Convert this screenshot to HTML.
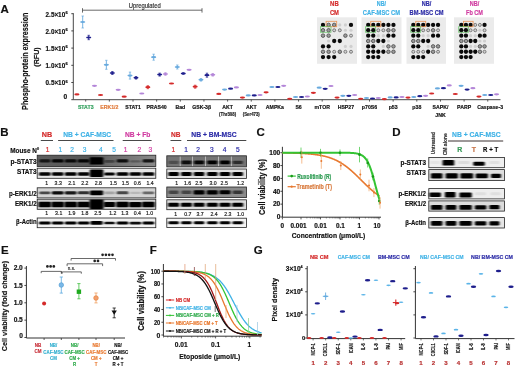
<!DOCTYPE html>
<html><head><meta charset="utf-8"><style>
html,body{margin:0;padding:0;background:#fff;}
svg{display:block;font-family:"Liberation Sans",sans-serif;will-change:transform;}
</style></head><body>
<svg width="520" height="368" viewBox="0 0 520 368">
<defs><filter id="bl" x="-30%" y="-80%" width="160%" height="260%"><feGaussianBlur stdDeviation="0.9 0.5"/></filter><linearGradient id="gPS" x1="0" y1="0" x2="1" y2="0"><stop offset="0" stop-color="#5e5e5e"/><stop offset="0.45" stop-color="#555"/><stop offset="0.6" stop-color="#6a6a6a"/><stop offset="1" stop-color="#8a8a8a"/></linearGradient></defs>
<rect width="520" height="368" fill="#fff"/>
<text x="0.50" y="13.00" font-size="11.5" fill="#111" font-weight="bold" text-anchor="start" stroke="#111" stroke-width="0.18" >A</text>
<text x="28.20" y="61.20" font-size="8.2" fill="#111" font-weight="bold" text-anchor="middle" stroke="#111" stroke-width="0.18" textLength="97.4" lengthAdjust="spacingAndGlyphs" transform="rotate(-90 28.20 61.20)" >Phospho-protein expression</text>
<text x="39.40" y="57.00" font-size="8.0" fill="#111" font-weight="bold" text-anchor="middle" stroke="#111" stroke-width="0.18" textLength="19.5" lengthAdjust="spacingAndGlyphs" transform="rotate(-90 39.40 57.00)" >(RFU)</text>
<line x1="73.30" y1="13.20" x2="73.30" y2="99.70" stroke="#333" stroke-width="0.9" />
<line x1="71.30" y1="13.70" x2="73.30" y2="13.70" stroke="#333" stroke-width="0.9" />
<text x="45.60" y="16.50" font-size="6.9" fill="#111" font-weight="bold" text-anchor="start" stroke="#111" stroke-width="0.18" textLength="19.6" lengthAdjust="spacingAndGlyphs" >2.5×10</text>
<text x="65.40" y="13.80" font-size="4.0" fill="#111" font-weight="bold" text-anchor="start" stroke="#111" stroke-width="0.18" >6</text>
<line x1="71.30" y1="30.90" x2="73.30" y2="30.90" stroke="#333" stroke-width="0.9" />
<text x="45.60" y="33.70" font-size="6.9" fill="#111" font-weight="bold" text-anchor="start" stroke="#111" stroke-width="0.18" textLength="19.6" lengthAdjust="spacingAndGlyphs" >2.0×10</text>
<text x="65.40" y="31.00" font-size="4.0" fill="#111" font-weight="bold" text-anchor="start" stroke="#111" stroke-width="0.18" >6</text>
<line x1="71.30" y1="48.10" x2="73.30" y2="48.10" stroke="#333" stroke-width="0.9" />
<text x="45.60" y="50.90" font-size="6.9" fill="#111" font-weight="bold" text-anchor="start" stroke="#111" stroke-width="0.18" textLength="19.6" lengthAdjust="spacingAndGlyphs" >1.5×10</text>
<text x="65.40" y="48.20" font-size="4.0" fill="#111" font-weight="bold" text-anchor="start" stroke="#111" stroke-width="0.18" >6</text>
<line x1="71.30" y1="65.30" x2="73.30" y2="65.30" stroke="#333" stroke-width="0.9" />
<text x="45.60" y="68.10" font-size="6.9" fill="#111" font-weight="bold" text-anchor="start" stroke="#111" stroke-width="0.18" textLength="19.6" lengthAdjust="spacingAndGlyphs" >1.0×10</text>
<text x="65.40" y="65.40" font-size="4.0" fill="#111" font-weight="bold" text-anchor="start" stroke="#111" stroke-width="0.18" >6</text>
<line x1="71.30" y1="82.50" x2="73.30" y2="82.50" stroke="#333" stroke-width="0.9" />
<text x="45.60" y="85.30" font-size="6.9" fill="#111" font-weight="bold" text-anchor="start" stroke="#111" stroke-width="0.18" textLength="19.6" lengthAdjust="spacingAndGlyphs" >0.5×10</text>
<text x="65.40" y="82.60" font-size="4.0" fill="#111" font-weight="bold" text-anchor="start" stroke="#111" stroke-width="0.18" >6</text>
<line x1="71.30" y1="99.70" x2="73.30" y2="99.70" stroke="#333" stroke-width="0.9" />
<text x="67.20" y="98.60" font-size="6.6" fill="#111" font-weight="bold" text-anchor="end" stroke="#111" stroke-width="0.18" >0</text>
<line x1="73.30" y1="99.70" x2="500.50" y2="99.70" stroke="#333" stroke-width="0.9" />
<line x1="85.70" y1="99.70" x2="85.70" y2="101.60" stroke="#333" stroke-width="0.8" />
<text x="0" y="0" font-size="5.9" fill="#2e9e5a" font-weight="bold" text-anchor="middle" stroke="#2e9e5a" stroke-width="0.18" transform="translate(85.70 108.60) scale(0.88 1)">STAT3</text>
<line x1="109.35" y1="99.70" x2="109.35" y2="101.60" stroke="#333" stroke-width="0.8" />
<text x="0" y="0" font-size="5.9" fill="#e07a3a" font-weight="bold" text-anchor="middle" stroke="#e07a3a" stroke-width="0.18" transform="translate(109.35 108.60) scale(0.88 1)">ERK1/2</text>
<line x1="133.00" y1="99.70" x2="133.00" y2="101.60" stroke="#333" stroke-width="0.8" />
<text x="0" y="0" font-size="5.9" fill="#111" font-weight="bold" text-anchor="middle" stroke="#111" stroke-width="0.18" transform="translate(133.00 108.60) scale(0.88 1)">STAT1</text>
<line x1="156.65" y1="99.70" x2="156.65" y2="101.60" stroke="#333" stroke-width="0.8" />
<text x="0" y="0" font-size="5.9" fill="#111" font-weight="bold" text-anchor="middle" stroke="#111" stroke-width="0.18" transform="translate(156.65 108.60) scale(0.88 1)">PRAS40</text>
<line x1="180.30" y1="99.70" x2="180.30" y2="101.60" stroke="#333" stroke-width="0.8" />
<text x="0" y="0" font-size="5.9" fill="#111" font-weight="bold" text-anchor="middle" stroke="#111" stroke-width="0.18" transform="translate(180.30 108.60) scale(0.88 1)">Bad</text>
<line x1="203.95" y1="99.70" x2="203.95" y2="101.60" stroke="#333" stroke-width="0.8" />
<text x="0" y="0" font-size="5.9" fill="#111" font-weight="bold" text-anchor="middle" stroke="#111" stroke-width="0.18" transform="translate(201.65 108.60) scale(0.88 1)">GSK-3β</text>
<line x1="227.60" y1="99.70" x2="227.60" y2="101.60" stroke="#333" stroke-width="0.8" />
<text x="0" y="0" font-size="5.9" fill="#111" font-weight="bold" text-anchor="middle" stroke="#111" stroke-width="0.18" transform="translate(227.60 108.60) scale(0.88 1)">AKT</text>
<text x="0" y="0" font-size="4.8" fill="#222" font-weight="bold" text-anchor="middle" stroke="#222" stroke-width="0.18" transform="translate(227.60 115.80) scale(0.9 1)">(Thr308)</text>
<line x1="251.25" y1="99.70" x2="251.25" y2="101.60" stroke="#333" stroke-width="0.8" />
<text x="0" y="0" font-size="5.9" fill="#111" font-weight="bold" text-anchor="middle" stroke="#111" stroke-width="0.18" transform="translate(251.25 108.60) scale(0.88 1)">AKT</text>
<text x="0" y="0" font-size="4.8" fill="#222" font-weight="bold" text-anchor="middle" stroke="#222" stroke-width="0.18" transform="translate(251.25 115.80) scale(0.9 1)">(Ser473)</text>
<line x1="274.90" y1="99.70" x2="274.90" y2="101.60" stroke="#333" stroke-width="0.8" />
<text x="0" y="0" font-size="5.9" fill="#111" font-weight="bold" text-anchor="middle" stroke="#111" stroke-width="0.18" transform="translate(274.90 108.60) scale(0.88 1)">AMPKa</text>
<line x1="298.55" y1="99.70" x2="298.55" y2="101.60" stroke="#333" stroke-width="0.8" />
<text x="0" y="0" font-size="5.9" fill="#111" font-weight="bold" text-anchor="middle" stroke="#111" stroke-width="0.18" transform="translate(298.55 108.60) scale(0.88 1)">S6</text>
<line x1="322.20" y1="99.70" x2="322.20" y2="101.60" stroke="#333" stroke-width="0.8" />
<text x="0" y="0" font-size="5.9" fill="#111" font-weight="bold" text-anchor="middle" stroke="#111" stroke-width="0.18" transform="translate(322.20 108.60) scale(0.88 1)">mTOR</text>
<line x1="345.85" y1="99.70" x2="345.85" y2="101.60" stroke="#333" stroke-width="0.8" />
<text x="0" y="0" font-size="5.9" fill="#111" font-weight="bold" text-anchor="middle" stroke="#111" stroke-width="0.18" transform="translate(345.85 108.60) scale(0.88 1)">HSP27</text>
<line x1="369.50" y1="99.70" x2="369.50" y2="101.60" stroke="#333" stroke-width="0.8" />
<text x="0" y="0" font-size="5.9" fill="#111" font-weight="bold" text-anchor="middle" stroke="#111" stroke-width="0.18" transform="translate(369.50 108.60) scale(0.88 1)">p70S6</text>
<line x1="393.15" y1="99.70" x2="393.15" y2="101.60" stroke="#333" stroke-width="0.8" />
<text x="0" y="0" font-size="5.9" fill="#111" font-weight="bold" text-anchor="middle" stroke="#111" stroke-width="0.18" transform="translate(393.15 108.60) scale(0.88 1)">p53</text>
<line x1="416.80" y1="99.70" x2="416.80" y2="101.60" stroke="#333" stroke-width="0.8" />
<text x="0" y="0" font-size="5.9" fill="#111" font-weight="bold" text-anchor="middle" stroke="#111" stroke-width="0.18" transform="translate(416.80 108.60) scale(0.88 1)">p38</text>
<line x1="440.45" y1="99.70" x2="440.45" y2="101.60" stroke="#333" stroke-width="0.8" />
<text x="0" y="0" font-size="5.9" fill="#111" font-weight="bold" text-anchor="middle" stroke="#111" stroke-width="0.18" transform="translate(440.45 108.60) scale(0.88 1)">SAPK/</text>
<text x="0" y="0" font-size="5.9" fill="#111" font-weight="bold" text-anchor="middle" stroke="#111" stroke-width="0.18" transform="translate(440.45 116.60) scale(0.88 1)">JNK</text>
<line x1="464.10" y1="99.70" x2="464.10" y2="101.60" stroke="#333" stroke-width="0.8" />
<text x="0" y="0" font-size="5.9" fill="#111" font-weight="bold" text-anchor="middle" stroke="#111" stroke-width="0.18" transform="translate(464.10 108.60) scale(0.88 1)">PARP</text>
<line x1="487.75" y1="99.70" x2="487.75" y2="101.60" stroke="#333" stroke-width="0.8" />
<text x="0" y="0" font-size="5.9" fill="#111" font-weight="bold" text-anchor="middle" stroke="#111" stroke-width="0.18" transform="translate(490.15 108.60) scale(0.88 1)">Caspase-3</text>
<ellipse cx="76.90" cy="94.40" rx="2.6" ry="1.1" fill="#d42a2a"/>
<line x1="82.70" y1="16.00" x2="82.70" y2="28.00" stroke="#68aade" stroke-width="0.9" />
<line x1="81.50" y1="16.00" x2="83.90" y2="16.00" stroke="#68aade" stroke-width="0.7" />
<line x1="81.50" y1="28.00" x2="83.90" y2="28.00" stroke="#68aade" stroke-width="0.7" />
<ellipse cx="82.70" cy="22.00" rx="2.6" ry="1.1" fill="#68aade"/>
<line x1="88.70" y1="35.30" x2="88.70" y2="39.70" stroke="#1e1e8c" stroke-width="0.9" />
<line x1="87.50" y1="35.30" x2="89.90" y2="35.30" stroke="#1e1e8c" stroke-width="0.7" />
<line x1="87.50" y1="39.70" x2="89.90" y2="39.70" stroke="#1e1e8c" stroke-width="0.7" />
<ellipse cx="88.70" cy="37.50" rx="2.6" ry="1.1" fill="#1e1e8c"/>
<ellipse cx="94.50" cy="85.80" rx="2.6" ry="1.1" fill="#b486d8"/>
<ellipse cx="100.55" cy="95.00" rx="2.6" ry="1.1" fill="#d42a2a"/>
<line x1="106.35" y1="60.30" x2="106.35" y2="69.30" stroke="#68aade" stroke-width="0.9" />
<line x1="105.15" y1="60.30" x2="107.55" y2="60.30" stroke="#68aade" stroke-width="0.7" />
<line x1="105.15" y1="69.30" x2="107.55" y2="69.30" stroke="#68aade" stroke-width="0.7" />
<ellipse cx="106.35" cy="64.80" rx="2.6" ry="1.1" fill="#68aade"/>
<line x1="112.35" y1="71.50" x2="112.35" y2="74.50" stroke="#1e1e8c" stroke-width="0.9" />
<line x1="111.15" y1="71.50" x2="113.55" y2="71.50" stroke="#1e1e8c" stroke-width="0.7" />
<line x1="111.15" y1="74.50" x2="113.55" y2="74.50" stroke="#1e1e8c" stroke-width="0.7" />
<ellipse cx="112.35" cy="73.00" rx="2.6" ry="1.1" fill="#1e1e8c"/>
<ellipse cx="118.15" cy="89.80" rx="2.6" ry="1.1" fill="#b486d8"/>
<ellipse cx="124.20" cy="96.70" rx="2.6" ry="1.1" fill="#d42a2a"/>
<line x1="130.00" y1="72.10" x2="130.00" y2="79.10" stroke="#68aade" stroke-width="0.9" />
<line x1="128.80" y1="72.10" x2="131.20" y2="72.10" stroke="#68aade" stroke-width="0.7" />
<line x1="128.80" y1="79.10" x2="131.20" y2="79.10" stroke="#68aade" stroke-width="0.7" />
<ellipse cx="130.00" cy="75.60" rx="2.6" ry="1.1" fill="#68aade"/>
<line x1="136.00" y1="76.50" x2="136.00" y2="79.10" stroke="#1e1e8c" stroke-width="0.9" />
<line x1="134.80" y1="76.50" x2="137.20" y2="76.50" stroke="#1e1e8c" stroke-width="0.7" />
<line x1="134.80" y1="79.10" x2="137.20" y2="79.10" stroke="#1e1e8c" stroke-width="0.7" />
<ellipse cx="136.00" cy="77.80" rx="2.6" ry="1.1" fill="#1e1e8c"/>
<ellipse cx="141.80" cy="93.50" rx="2.6" ry="1.1" fill="#b486d8"/>
<line x1="147.85" y1="85.70" x2="147.85" y2="88.70" stroke="#d42a2a" stroke-width="0.9" />
<line x1="146.65" y1="85.70" x2="149.05" y2="85.70" stroke="#d42a2a" stroke-width="0.7" />
<line x1="146.65" y1="88.70" x2="149.05" y2="88.70" stroke="#d42a2a" stroke-width="0.7" />
<ellipse cx="147.85" cy="87.20" rx="2.6" ry="1.1" fill="#d42a2a"/>
<line x1="153.65" y1="54.20" x2="153.65" y2="60.20" stroke="#68aade" stroke-width="0.9" />
<line x1="152.45" y1="54.20" x2="154.85" y2="54.20" stroke="#68aade" stroke-width="0.7" />
<line x1="152.45" y1="60.20" x2="154.85" y2="60.20" stroke="#68aade" stroke-width="0.7" />
<ellipse cx="153.65" cy="57.20" rx="2.6" ry="1.1" fill="#68aade"/>
<line x1="159.65" y1="73.10" x2="159.65" y2="76.10" stroke="#1e1e8c" stroke-width="0.9" />
<line x1="158.45" y1="73.10" x2="160.85" y2="73.10" stroke="#1e1e8c" stroke-width="0.7" />
<line x1="158.45" y1="76.10" x2="160.85" y2="76.10" stroke="#1e1e8c" stroke-width="0.7" />
<ellipse cx="159.65" cy="74.60" rx="2.6" ry="1.1" fill="#1e1e8c"/>
<line x1="165.45" y1="72.70" x2="165.45" y2="75.30" stroke="#b486d8" stroke-width="0.9" />
<line x1="164.25" y1="72.70" x2="166.65" y2="72.70" stroke="#b486d8" stroke-width="0.7" />
<line x1="164.25" y1="75.30" x2="166.65" y2="75.30" stroke="#b486d8" stroke-width="0.7" />
<ellipse cx="165.45" cy="74.00" rx="2.6" ry="1.1" fill="#b486d8"/>
<ellipse cx="171.50" cy="83.50" rx="2.6" ry="1.1" fill="#d42a2a"/>
<line x1="177.30" y1="65.00" x2="177.30" y2="69.00" stroke="#68aade" stroke-width="0.9" />
<line x1="176.10" y1="65.00" x2="178.50" y2="65.00" stroke="#68aade" stroke-width="0.7" />
<line x1="176.10" y1="69.00" x2="178.50" y2="69.00" stroke="#68aade" stroke-width="0.7" />
<ellipse cx="177.30" cy="67.00" rx="2.6" ry="1.1" fill="#68aade"/>
<line x1="183.30" y1="72.70" x2="183.30" y2="74.30" stroke="#1e1e8c" stroke-width="0.9" />
<line x1="182.10" y1="72.70" x2="184.50" y2="72.70" stroke="#1e1e8c" stroke-width="0.7" />
<line x1="182.10" y1="74.30" x2="184.50" y2="74.30" stroke="#1e1e8c" stroke-width="0.7" />
<ellipse cx="183.30" cy="73.50" rx="2.6" ry="1.1" fill="#1e1e8c"/>
<ellipse cx="189.10" cy="69.80" rx="2.6" ry="1.1" fill="#b486d8"/>
<line x1="195.15" y1="85.20" x2="195.15" y2="88.20" stroke="#d42a2a" stroke-width="0.9" />
<line x1="193.95" y1="85.20" x2="196.35" y2="85.20" stroke="#d42a2a" stroke-width="0.7" />
<line x1="193.95" y1="88.20" x2="196.35" y2="88.20" stroke="#d42a2a" stroke-width="0.7" />
<ellipse cx="195.15" cy="86.70" rx="2.6" ry="1.1" fill="#d42a2a"/>
<line x1="200.95" y1="78.50" x2="200.95" y2="81.10" stroke="#68aade" stroke-width="0.9" />
<line x1="199.75" y1="78.50" x2="202.15" y2="78.50" stroke="#68aade" stroke-width="0.7" />
<line x1="199.75" y1="81.10" x2="202.15" y2="81.10" stroke="#68aade" stroke-width="0.7" />
<ellipse cx="200.95" cy="79.80" rx="2.6" ry="1.1" fill="#68aade"/>
<line x1="206.95" y1="73.20" x2="206.95" y2="77.20" stroke="#1e1e8c" stroke-width="0.9" />
<line x1="205.75" y1="73.20" x2="208.15" y2="73.20" stroke="#1e1e8c" stroke-width="0.7" />
<line x1="205.75" y1="77.20" x2="208.15" y2="77.20" stroke="#1e1e8c" stroke-width="0.7" />
<ellipse cx="206.95" cy="75.20" rx="2.6" ry="1.1" fill="#1e1e8c"/>
<line x1="212.75" y1="73.50" x2="212.75" y2="76.10" stroke="#b486d8" stroke-width="0.9" />
<line x1="211.55" y1="73.50" x2="213.95" y2="73.50" stroke="#b486d8" stroke-width="0.7" />
<line x1="211.55" y1="76.10" x2="213.95" y2="76.10" stroke="#b486d8" stroke-width="0.7" />
<ellipse cx="212.75" cy="74.80" rx="2.6" ry="1.1" fill="#b486d8"/>
<ellipse cx="218.80" cy="93.90" rx="2.6" ry="1.1" fill="#d42a2a"/>
<ellipse cx="224.60" cy="89.60" rx="2.6" ry="1.1" fill="#68aade"/>
<ellipse cx="230.60" cy="88.70" rx="2.6" ry="1.1" fill="#1e1e8c"/>
<ellipse cx="236.40" cy="87.40" rx="2.6" ry="1.1" fill="#b486d8"/>
<ellipse cx="242.45" cy="97.60" rx="2.6" ry="1.1" fill="#d42a2a"/>
<ellipse cx="248.25" cy="95.40" rx="2.6" ry="1.1" fill="#68aade"/>
<ellipse cx="254.25" cy="95.40" rx="2.6" ry="1.1" fill="#1e1e8c"/>
<ellipse cx="260.05" cy="95.00" rx="2.6" ry="1.1" fill="#b486d8"/>
<ellipse cx="266.10" cy="92.30" rx="2.6" ry="1.1" fill="#d42a2a"/>
<ellipse cx="271.90" cy="87.00" rx="2.6" ry="1.1" fill="#68aade"/>
<ellipse cx="277.90" cy="87.00" rx="2.6" ry="1.1" fill="#1e1e8c"/>
<ellipse cx="283.70" cy="85.80" rx="2.6" ry="1.1" fill="#b486d8"/>
<ellipse cx="289.75" cy="98.80" rx="2.6" ry="1.1" fill="#d42a2a"/>
<ellipse cx="295.55" cy="97.00" rx="2.6" ry="1.1" fill="#68aade"/>
<ellipse cx="301.55" cy="97.00" rx="2.6" ry="1.1" fill="#1e1e8c"/>
<ellipse cx="307.35" cy="96.50" rx="2.6" ry="1.1" fill="#b486d8"/>
<ellipse cx="313.40" cy="92.80" rx="2.6" ry="1.1" fill="#d42a2a"/>
<ellipse cx="319.20" cy="87.70" rx="2.6" ry="1.1" fill="#68aade"/>
<ellipse cx="325.20" cy="88.80" rx="2.6" ry="1.1" fill="#1e1e8c"/>
<ellipse cx="331.00" cy="86.00" rx="2.6" ry="1.1" fill="#b486d8"/>
<ellipse cx="337.05" cy="97.60" rx="2.6" ry="1.1" fill="#d42a2a"/>
<ellipse cx="342.85" cy="95.80" rx="2.6" ry="1.1" fill="#68aade"/>
<ellipse cx="348.85" cy="95.80" rx="2.6" ry="1.1" fill="#1e1e8c"/>
<ellipse cx="354.65" cy="95.00" rx="2.6" ry="1.1" fill="#b486d8"/>
<ellipse cx="360.70" cy="98.80" rx="2.6" ry="1.1" fill="#d42a2a"/>
<ellipse cx="366.50" cy="98.00" rx="2.6" ry="1.1" fill="#68aade"/>
<ellipse cx="372.50" cy="98.50" rx="2.6" ry="1.1" fill="#1e1e8c"/>
<ellipse cx="378.30" cy="98.00" rx="2.6" ry="1.1" fill="#b486d8"/>
<ellipse cx="384.35" cy="99.20" rx="2.6" ry="1.1" fill="#d42a2a"/>
<ellipse cx="390.15" cy="97.40" rx="2.6" ry="1.1" fill="#68aade"/>
<ellipse cx="396.15" cy="97.40" rx="2.6" ry="1.1" fill="#1e1e8c"/>
<ellipse cx="401.95" cy="97.00" rx="2.6" ry="1.1" fill="#b486d8"/>
<ellipse cx="408.00" cy="97.60" rx="2.6" ry="1.1" fill="#d42a2a"/>
<ellipse cx="413.80" cy="97.00" rx="2.6" ry="1.1" fill="#68aade"/>
<ellipse cx="419.80" cy="96.20" rx="2.6" ry="1.1" fill="#1e1e8c"/>
<ellipse cx="425.60" cy="95.80" rx="2.6" ry="1.1" fill="#b486d8"/>
<ellipse cx="431.65" cy="93.50" rx="2.6" ry="1.1" fill="#d42a2a"/>
<ellipse cx="437.45" cy="88.40" rx="2.6" ry="1.1" fill="#68aade"/>
<ellipse cx="443.45" cy="88.20" rx="2.6" ry="1.1" fill="#1e1e8c"/>
<ellipse cx="449.25" cy="85.40" rx="2.6" ry="1.1" fill="#b486d8"/>
<ellipse cx="455.30" cy="94.00" rx="2.6" ry="1.1" fill="#d42a2a"/>
<ellipse cx="461.10" cy="85.80" rx="2.6" ry="1.1" fill="#68aade"/>
<ellipse cx="467.10" cy="89.60" rx="2.6" ry="1.1" fill="#1e1e8c"/>
<ellipse cx="472.90" cy="88.20" rx="2.6" ry="1.1" fill="#b486d8"/>
<ellipse cx="478.95" cy="96.60" rx="2.6" ry="1.1" fill="#d42a2a"/>
<ellipse cx="484.75" cy="95.00" rx="2.6" ry="1.1" fill="#68aade"/>
<ellipse cx="490.75" cy="95.00" rx="2.6" ry="1.1" fill="#1e1e8c"/>
<ellipse cx="496.55" cy="94.30" rx="2.6" ry="1.1" fill="#b486d8"/>
<line x1="82.50" y1="10.20" x2="202.00" y2="10.20" stroke="#444" stroke-width="0.8" />
<line x1="82.50" y1="8.20" x2="82.50" y2="12.60" stroke="#444" stroke-width="0.8" />
<line x1="202.00" y1="8.20" x2="202.00" y2="12.60" stroke="#444" stroke-width="0.8" />
<text x="144.70" y="8.00" font-size="6.3" fill="#333" font-weight="normal" text-anchor="middle" stroke="#333" stroke-width="0.18" textLength="32" lengthAdjust="spacingAndGlyphs" >Upregulated</text>
<rect x="317.00" y="17.30" width="40.00" height="46.50" fill="#ebebeb" stroke="none" stroke-width="0" />
<text x="334.40" y="6.30" font-size="6.7" fill="#d42a2a" font-weight="bold" text-anchor="middle" stroke="#d42a2a" stroke-width="0.18" textLength="8.6" lengthAdjust="spacingAndGlyphs" >NB</text>
<text x="334.40" y="14.50" font-size="6.7" fill="#d42a2a" font-weight="bold" text-anchor="middle" stroke="#d42a2a" stroke-width="0.18" textLength="9.0" lengthAdjust="spacingAndGlyphs" >CM</text>
<circle cx="323.00" cy="24.90" r="2.15" fill="#0a0a0a" stroke="none" stroke-width="0"/>
<circle cx="328.60" cy="24.90" r="1.75" fill="#9a9a9a" stroke="#505050" stroke-width="0.9"/>
<circle cx="334.20" cy="24.90" r="1.75" fill="#9a9a9a" stroke="#505050" stroke-width="0.9"/>
<circle cx="339.80" cy="24.90" r="1.60" fill="#cfcfcf" stroke="none" stroke-width="0"/>
<circle cx="345.40" cy="24.90" r="1.60" fill="#cfcfcf" stroke="none" stroke-width="0"/>
<circle cx="351.00" cy="24.90" r="2.15" fill="#0a0a0a" stroke="none" stroke-width="0"/>
<circle cx="323.00" cy="30.27" r="1.75" fill="#9a9a9a" stroke="#505050" stroke-width="0.9"/>
<circle cx="328.60" cy="30.27" r="1.75" fill="#9a9a9a" stroke="#505050" stroke-width="0.9"/>
<circle cx="334.20" cy="30.27" r="1.50" fill="#d0d0d0" stroke="#666" stroke-width="0.8"/>
<circle cx="339.80" cy="30.27" r="1.50" fill="#d0d0d0" stroke="#666" stroke-width="0.8"/>
<circle cx="345.40" cy="30.27" r="1.60" fill="#cfcfcf" stroke="none" stroke-width="0"/>
<circle cx="351.00" cy="30.27" r="1.60" fill="#cfcfcf" stroke="none" stroke-width="0"/>
<circle cx="323.00" cy="35.64" r="1.75" fill="#9a9a9a" stroke="#505050" stroke-width="0.9"/>
<circle cx="328.60" cy="35.64" r="1.75" fill="#9a9a9a" stroke="#505050" stroke-width="0.9"/>
<circle cx="345.40" cy="35.64" r="1.75" fill="#9a9a9a" stroke="#505050" stroke-width="0.9"/>
<circle cx="351.00" cy="35.64" r="1.50" fill="#d0d0d0" stroke="#666" stroke-width="0.8"/>
<circle cx="328.60" cy="41.01" r="1.60" fill="#cfcfcf" stroke="none" stroke-width="0"/>
<circle cx="334.20" cy="41.01" r="2.15" fill="#0a0a0a" stroke="none" stroke-width="0"/>
<circle cx="339.80" cy="41.01" r="2.15" fill="#0a0a0a" stroke="none" stroke-width="0"/>
<circle cx="323.00" cy="46.38" r="2.15" fill="#0a0a0a" stroke="none" stroke-width="0"/>
<circle cx="328.60" cy="46.38" r="2.15" fill="#0a0a0a" stroke="none" stroke-width="0"/>
<circle cx="345.40" cy="46.38" r="1.60" fill="#cfcfcf" stroke="none" stroke-width="0"/>
<circle cx="351.00" cy="46.38" r="1.60" fill="#cfcfcf" stroke="none" stroke-width="0"/>
<circle cx="323.00" cy="51.75" r="1.75" fill="#9a9a9a" stroke="#505050" stroke-width="0.9"/>
<circle cx="328.60" cy="51.75" r="1.75" fill="#9a9a9a" stroke="#505050" stroke-width="0.9"/>
<circle cx="334.20" cy="51.75" r="1.50" fill="#d0d0d0" stroke="#666" stroke-width="0.8"/>
<circle cx="339.80" cy="51.75" r="1.75" fill="#9a9a9a" stroke="#505050" stroke-width="0.9"/>
<circle cx="345.40" cy="51.75" r="1.50" fill="#d0d0d0" stroke="#666" stroke-width="0.8"/>
<circle cx="351.00" cy="51.75" r="1.50" fill="#d0d0d0" stroke="#666" stroke-width="0.8"/>
<circle cx="323.00" cy="57.12" r="2.15" fill="#0a0a0a" stroke="none" stroke-width="0"/>
<circle cx="328.60" cy="57.12" r="2.15" fill="#0a0a0a" stroke="none" stroke-width="0"/>
<circle cx="334.20" cy="57.12" r="2.15" fill="#0a0a0a" stroke="none" stroke-width="0"/>
<rect x="326.10" y="21.30" width="10.60" height="5.4" fill="none" stroke="#e8823a" stroke-width="0.8" opacity="0.85"/>
<rect x="320.40" y="26.67" width="10.60" height="5.6" fill="none" stroke="#5cbf5c" stroke-width="0.8" opacity="0.85"/>
<rect x="361.50" y="17.30" width="40.00" height="46.50" fill="#ebebeb" stroke="none" stroke-width="0" />
<text x="381.40" y="6.30" font-size="6.7" fill="#3fb2e6" font-weight="bold" text-anchor="middle" stroke="#3fb2e6" stroke-width="0.18" textLength="9.3" lengthAdjust="spacingAndGlyphs" >NB/</text>
<text x="381.40" y="14.50" font-size="6.7" fill="#3fb2e6" font-weight="bold" text-anchor="middle" stroke="#3fb2e6" stroke-width="0.18" textLength="37.2" lengthAdjust="spacingAndGlyphs" >CAF-MSC CM</text>
<circle cx="368.20" cy="24.90" r="2.15" fill="#0a0a0a" stroke="none" stroke-width="0"/>
<circle cx="373.25" cy="24.90" r="2.15" fill="#0a0a0a" stroke="none" stroke-width="0"/>
<circle cx="378.30" cy="24.90" r="2.15" fill="#0a0a0a" stroke="none" stroke-width="0"/>
<circle cx="383.35" cy="24.90" r="2.15" fill="#0a0a0a" stroke="none" stroke-width="0"/>
<circle cx="388.40" cy="24.90" r="2.15" fill="#0a0a0a" stroke="none" stroke-width="0"/>
<circle cx="393.45" cy="24.90" r="2.15" fill="#0a0a0a" stroke="none" stroke-width="0"/>
<circle cx="368.20" cy="30.27" r="2.15" fill="#0a0a0a" stroke="none" stroke-width="0"/>
<circle cx="373.25" cy="30.27" r="2.15" fill="#0a0a0a" stroke="none" stroke-width="0"/>
<circle cx="378.30" cy="30.27" r="1.50" fill="#d0d0d0" stroke="#666" stroke-width="0.8"/>
<circle cx="383.35" cy="30.27" r="1.50" fill="#d0d0d0" stroke="#666" stroke-width="0.8"/>
<circle cx="388.40" cy="30.27" r="1.75" fill="#9a9a9a" stroke="#505050" stroke-width="0.9"/>
<circle cx="393.45" cy="30.27" r="1.75" fill="#9a9a9a" stroke="#505050" stroke-width="0.9"/>
<circle cx="368.20" cy="35.64" r="2.15" fill="#0a0a0a" stroke="none" stroke-width="0"/>
<circle cx="373.25" cy="35.64" r="2.15" fill="#0a0a0a" stroke="none" stroke-width="0"/>
<circle cx="378.30" cy="35.64" r="1.60" fill="#cfcfcf" stroke="none" stroke-width="0"/>
<circle cx="383.35" cy="35.64" r="1.60" fill="#cfcfcf" stroke="none" stroke-width="0"/>
<circle cx="388.40" cy="35.64" r="2.15" fill="#0a0a0a" stroke="none" stroke-width="0"/>
<circle cx="393.45" cy="35.64" r="2.15" fill="#0a0a0a" stroke="none" stroke-width="0"/>
<circle cx="368.20" cy="41.01" r="1.75" fill="#9a9a9a" stroke="#505050" stroke-width="0.9"/>
<circle cx="373.25" cy="41.01" r="1.75" fill="#9a9a9a" stroke="#505050" stroke-width="0.9"/>
<circle cx="378.30" cy="41.01" r="2.15" fill="#0a0a0a" stroke="none" stroke-width="0"/>
<circle cx="383.35" cy="41.01" r="2.15" fill="#0a0a0a" stroke="none" stroke-width="0"/>
<circle cx="388.40" cy="41.01" r="1.60" fill="#cfcfcf" stroke="none" stroke-width="0"/>
<circle cx="368.20" cy="46.38" r="2.15" fill="#0a0a0a" stroke="none" stroke-width="0"/>
<circle cx="373.25" cy="46.38" r="2.15" fill="#0a0a0a" stroke="none" stroke-width="0"/>
<circle cx="383.35" cy="46.38" r="1.60" fill="#cfcfcf" stroke="none" stroke-width="0"/>
<circle cx="388.40" cy="46.38" r="1.75" fill="#9a9a9a" stroke="#505050" stroke-width="0.9"/>
<circle cx="393.45" cy="46.38" r="1.75" fill="#9a9a9a" stroke="#505050" stroke-width="0.9"/>
<circle cx="368.20" cy="51.75" r="2.15" fill="#0a0a0a" stroke="none" stroke-width="0"/>
<circle cx="373.25" cy="51.75" r="2.15" fill="#0a0a0a" stroke="none" stroke-width="0"/>
<circle cx="378.30" cy="51.75" r="2.15" fill="#0a0a0a" stroke="none" stroke-width="0"/>
<circle cx="383.35" cy="51.75" r="2.15" fill="#0a0a0a" stroke="none" stroke-width="0"/>
<circle cx="388.40" cy="51.75" r="1.75" fill="#9a9a9a" stroke="#505050" stroke-width="0.9"/>
<circle cx="393.45" cy="51.75" r="1.75" fill="#9a9a9a" stroke="#505050" stroke-width="0.9"/>
<circle cx="368.20" cy="57.12" r="2.15" fill="#0a0a0a" stroke="none" stroke-width="0"/>
<circle cx="373.25" cy="57.12" r="2.15" fill="#0a0a0a" stroke="none" stroke-width="0"/>
<circle cx="378.30" cy="57.12" r="2.15" fill="#0a0a0a" stroke="none" stroke-width="0"/>
<rect x="370.75" y="21.30" width="10.05" height="5.4" fill="none" stroke="#e8823a" stroke-width="0.8" opacity="0.85"/>
<rect x="365.60" y="26.67" width="10.05" height="5.6" fill="none" stroke="#5cbf5c" stroke-width="0.8" opacity="0.85"/>
<rect x="406.50" y="17.30" width="39.50" height="46.50" fill="#ebebeb" stroke="none" stroke-width="0" />
<text x="426.60" y="6.30" font-size="6.7" fill="#2a2aa6" font-weight="bold" text-anchor="middle" stroke="#2a2aa6" stroke-width="0.18" textLength="9.5" lengthAdjust="spacingAndGlyphs" >NB/</text>
<text x="426.60" y="14.50" font-size="6.7" fill="#2a2aa6" font-weight="bold" text-anchor="middle" stroke="#2a2aa6" stroke-width="0.18" textLength="34.0" lengthAdjust="spacingAndGlyphs" >BM-MSC CM</text>
<circle cx="413.30" cy="24.90" r="2.15" fill="#0a0a0a" stroke="none" stroke-width="0"/>
<circle cx="418.25" cy="24.90" r="2.15" fill="#0a0a0a" stroke="none" stroke-width="0"/>
<circle cx="423.20" cy="24.90" r="2.15" fill="#0a0a0a" stroke="none" stroke-width="0"/>
<circle cx="428.15" cy="24.90" r="2.15" fill="#0a0a0a" stroke="none" stroke-width="0"/>
<circle cx="433.10" cy="24.90" r="2.15" fill="#0a0a0a" stroke="none" stroke-width="0"/>
<circle cx="438.05" cy="24.90" r="2.15" fill="#0a0a0a" stroke="none" stroke-width="0"/>
<circle cx="413.30" cy="30.27" r="2.15" fill="#0a0a0a" stroke="none" stroke-width="0"/>
<circle cx="418.25" cy="30.27" r="2.15" fill="#0a0a0a" stroke="none" stroke-width="0"/>
<circle cx="423.20" cy="30.27" r="1.50" fill="#d0d0d0" stroke="#666" stroke-width="0.8"/>
<circle cx="428.15" cy="30.27" r="1.50" fill="#d0d0d0" stroke="#666" stroke-width="0.8"/>
<circle cx="433.10" cy="30.27" r="1.75" fill="#9a9a9a" stroke="#505050" stroke-width="0.9"/>
<circle cx="438.05" cy="30.27" r="1.50" fill="#d0d0d0" stroke="#666" stroke-width="0.8"/>
<circle cx="413.30" cy="35.64" r="2.15" fill="#0a0a0a" stroke="none" stroke-width="0"/>
<circle cx="418.25" cy="35.64" r="2.15" fill="#0a0a0a" stroke="none" stroke-width="0"/>
<circle cx="423.20" cy="35.64" r="1.60" fill="#cfcfcf" stroke="none" stroke-width="0"/>
<circle cx="428.15" cy="35.64" r="1.60" fill="#cfcfcf" stroke="none" stroke-width="0"/>
<circle cx="433.10" cy="35.64" r="2.15" fill="#0a0a0a" stroke="none" stroke-width="0"/>
<circle cx="438.05" cy="35.64" r="2.15" fill="#0a0a0a" stroke="none" stroke-width="0"/>
<circle cx="413.30" cy="41.01" r="1.75" fill="#9a9a9a" stroke="#505050" stroke-width="0.9"/>
<circle cx="418.25" cy="41.01" r="1.75" fill="#9a9a9a" stroke="#505050" stroke-width="0.9"/>
<circle cx="423.20" cy="41.01" r="2.15" fill="#0a0a0a" stroke="none" stroke-width="0"/>
<circle cx="428.15" cy="41.01" r="2.15" fill="#0a0a0a" stroke="none" stroke-width="0"/>
<circle cx="413.30" cy="46.38" r="2.15" fill="#0a0a0a" stroke="none" stroke-width="0"/>
<circle cx="418.25" cy="46.38" r="2.15" fill="#0a0a0a" stroke="none" stroke-width="0"/>
<circle cx="428.15" cy="46.38" r="1.60" fill="#cfcfcf" stroke="none" stroke-width="0"/>
<circle cx="433.10" cy="46.38" r="1.75" fill="#9a9a9a" stroke="#505050" stroke-width="0.9"/>
<circle cx="438.05" cy="46.38" r="1.75" fill="#9a9a9a" stroke="#505050" stroke-width="0.9"/>
<circle cx="413.30" cy="51.75" r="1.50" fill="#d0d0d0" stroke="#666" stroke-width="0.8"/>
<circle cx="418.25" cy="51.75" r="1.50" fill="#d0d0d0" stroke="#666" stroke-width="0.8"/>
<circle cx="423.20" cy="51.75" r="1.50" fill="#d0d0d0" stroke="#666" stroke-width="0.8"/>
<circle cx="428.15" cy="51.75" r="2.15" fill="#0a0a0a" stroke="none" stroke-width="0"/>
<circle cx="433.10" cy="51.75" r="1.75" fill="#9a9a9a" stroke="#505050" stroke-width="0.9"/>
<circle cx="438.05" cy="51.75" r="1.50" fill="#d0d0d0" stroke="#666" stroke-width="0.8"/>
<circle cx="413.30" cy="57.12" r="2.15" fill="#0a0a0a" stroke="none" stroke-width="0"/>
<circle cx="418.25" cy="57.12" r="2.15" fill="#0a0a0a" stroke="none" stroke-width="0"/>
<circle cx="423.20" cy="57.12" r="2.15" fill="#0a0a0a" stroke="none" stroke-width="0"/>
<rect x="415.75" y="21.30" width="9.95" height="5.4" fill="none" stroke="#e8823a" stroke-width="0.8" opacity="0.85"/>
<rect x="410.70" y="26.67" width="9.95" height="5.6" fill="none" stroke="#5cbf5c" stroke-width="0.8" opacity="0.85"/>
<rect x="454.00" y="17.30" width="40.00" height="46.50" fill="#ebebeb" stroke="none" stroke-width="0" />
<text x="474.50" y="6.30" font-size="6.7" fill="#d03aa0" font-weight="bold" text-anchor="middle" stroke="#d03aa0" stroke-width="0.18" textLength="9.5" lengthAdjust="spacingAndGlyphs" >NB/</text>
<text x="474.50" y="14.50" font-size="6.7" fill="#d03aa0" font-weight="bold" text-anchor="middle" stroke="#d03aa0" stroke-width="0.18" textLength="17.0" lengthAdjust="spacingAndGlyphs" >Fb CM</text>
<circle cx="461.30" cy="24.90" r="2.15" fill="#0a0a0a" stroke="none" stroke-width="0"/>
<circle cx="465.95" cy="24.90" r="2.15" fill="#0a0a0a" stroke="none" stroke-width="0"/>
<circle cx="470.60" cy="24.90" r="2.15" fill="#0a0a0a" stroke="none" stroke-width="0"/>
<circle cx="475.25" cy="24.90" r="1.50" fill="#d0d0d0" stroke="#666" stroke-width="0.8"/>
<circle cx="479.90" cy="24.90" r="1.50" fill="#d0d0d0" stroke="#666" stroke-width="0.8"/>
<circle cx="484.55" cy="24.90" r="2.15" fill="#0a0a0a" stroke="none" stroke-width="0"/>
<circle cx="461.30" cy="30.27" r="2.15" fill="#0a0a0a" stroke="none" stroke-width="0"/>
<circle cx="465.95" cy="30.27" r="2.15" fill="#0a0a0a" stroke="none" stroke-width="0"/>
<circle cx="470.60" cy="30.27" r="1.50" fill="#d0d0d0" stroke="#666" stroke-width="0.8"/>
<circle cx="475.25" cy="30.27" r="1.50" fill="#d0d0d0" stroke="#666" stroke-width="0.8"/>
<circle cx="479.90" cy="30.27" r="1.60" fill="#cfcfcf" stroke="none" stroke-width="0"/>
<circle cx="484.55" cy="30.27" r="1.50" fill="#d0d0d0" stroke="#666" stroke-width="0.8"/>
<circle cx="461.30" cy="35.64" r="2.15" fill="#0a0a0a" stroke="none" stroke-width="0"/>
<circle cx="465.95" cy="35.64" r="2.15" fill="#0a0a0a" stroke="none" stroke-width="0"/>
<circle cx="470.60" cy="35.64" r="1.60" fill="#cfcfcf" stroke="none" stroke-width="0"/>
<circle cx="475.25" cy="35.64" r="1.60" fill="#cfcfcf" stroke="none" stroke-width="0"/>
<circle cx="479.90" cy="35.64" r="2.15" fill="#0a0a0a" stroke="none" stroke-width="0"/>
<circle cx="484.55" cy="35.64" r="2.15" fill="#0a0a0a" stroke="none" stroke-width="0"/>
<circle cx="461.30" cy="41.01" r="1.75" fill="#9a9a9a" stroke="#505050" stroke-width="0.9"/>
<circle cx="465.95" cy="41.01" r="1.75" fill="#9a9a9a" stroke="#505050" stroke-width="0.9"/>
<circle cx="470.60" cy="41.01" r="2.15" fill="#0a0a0a" stroke="none" stroke-width="0"/>
<circle cx="475.25" cy="41.01" r="2.15" fill="#0a0a0a" stroke="none" stroke-width="0"/>
<circle cx="479.90" cy="41.01" r="1.60" fill="#cfcfcf" stroke="none" stroke-width="0"/>
<circle cx="484.55" cy="41.01" r="1.60" fill="#cfcfcf" stroke="none" stroke-width="0"/>
<circle cx="461.30" cy="46.38" r="2.15" fill="#0a0a0a" stroke="none" stroke-width="0"/>
<circle cx="465.95" cy="46.38" r="2.15" fill="#0a0a0a" stroke="none" stroke-width="0"/>
<circle cx="470.60" cy="46.38" r="1.60" fill="#cfcfcf" stroke="none" stroke-width="0"/>
<circle cx="475.25" cy="46.38" r="1.60" fill="#cfcfcf" stroke="none" stroke-width="0"/>
<circle cx="479.90" cy="46.38" r="1.75" fill="#9a9a9a" stroke="#505050" stroke-width="0.9"/>
<circle cx="484.55" cy="46.38" r="1.75" fill="#9a9a9a" stroke="#505050" stroke-width="0.9"/>
<circle cx="461.30" cy="51.75" r="2.15" fill="#0a0a0a" stroke="none" stroke-width="0"/>
<circle cx="465.95" cy="51.75" r="2.15" fill="#0a0a0a" stroke="none" stroke-width="0"/>
<circle cx="470.60" cy="51.75" r="2.15" fill="#0a0a0a" stroke="none" stroke-width="0"/>
<circle cx="475.25" cy="51.75" r="2.15" fill="#0a0a0a" stroke="none" stroke-width="0"/>
<circle cx="479.90" cy="51.75" r="1.75" fill="#9a9a9a" stroke="#505050" stroke-width="0.9"/>
<circle cx="484.55" cy="51.75" r="1.50" fill="#d0d0d0" stroke="#666" stroke-width="0.8"/>
<circle cx="461.30" cy="57.12" r="2.15" fill="#0a0a0a" stroke="none" stroke-width="0"/>
<circle cx="465.95" cy="57.12" r="2.15" fill="#0a0a0a" stroke="none" stroke-width="0"/>
<circle cx="470.60" cy="57.12" r="2.15" fill="#0a0a0a" stroke="none" stroke-width="0"/>
<rect x="463.45" y="21.30" width="9.65" height="5.4" fill="none" stroke="#e8823a" stroke-width="0.8" opacity="0.85"/>
<rect x="458.70" y="26.67" width="9.65" height="5.6" fill="none" stroke="#5cbf5c" stroke-width="0.8" opacity="0.85"/>
<text x="0.30" y="136.00" font-size="11.5" fill="#111" font-weight="bold" text-anchor="start" stroke="#111" stroke-width="0.18" >B</text>
<text x="47.00" y="137.00" font-size="7.6" fill="#d42a2a" font-weight="bold" text-anchor="middle" stroke="#d42a2a" stroke-width="0.18" textLength="10.4" lengthAdjust="spacingAndGlyphs" >NB</text>
<line x1="40.80" y1="140.50" x2="53.00" y2="140.50" stroke="#333" stroke-width="0.9" />
<text x="87.20" y="137.00" font-size="7.6" fill="#3fb2e6" font-weight="bold" text-anchor="middle" stroke="#3fb2e6" stroke-width="0.18" textLength="48" lengthAdjust="spacingAndGlyphs" >NB + CAF-MSC</text>
<line x1="58.10" y1="140.50" x2="113.50" y2="140.50" stroke="#333" stroke-width="0.9" />
<text x="137.70" y="137.00" font-size="7.6" fill="#d03aa0" font-weight="bold" text-anchor="middle" stroke="#d03aa0" stroke-width="0.18" textLength="25.4" lengthAdjust="spacingAndGlyphs" >NB + Fb</text>
<line x1="122.70" y1="140.50" x2="151.60" y2="140.50" stroke="#333" stroke-width="0.9" />
<text x="175.80" y="137.00" font-size="7.6" fill="#d42a2a" font-weight="bold" text-anchor="middle" stroke="#d42a2a" stroke-width="0.18" textLength="9.5" lengthAdjust="spacingAndGlyphs" >NB</text>
<line x1="170.50" y1="140.50" x2="181.30" y2="140.50" stroke="#333" stroke-width="0.9" />
<text x="214.00" y="137.00" font-size="7.6" fill="#2a2aa6" font-weight="bold" text-anchor="middle" stroke="#2a2aa6" stroke-width="0.18" textLength="45.4" lengthAdjust="spacingAndGlyphs" >NB + BM-MSC</text>
<line x1="187.00" y1="140.50" x2="246.30" y2="140.50" stroke="#333" stroke-width="0.9" />
<text x="10.20" y="153.00" font-size="7.2" fill="#111" font-weight="bold" text-anchor="start" stroke="#111" stroke-width="0.18" textLength="29.2" lengthAdjust="spacingAndGlyphs" >Mouse N°</text>
<text x="47.70" y="152.00" font-size="6.6" fill="#d42a2a" font-weight="normal" text-anchor="middle" stroke="#d42a2a" stroke-width="0.18" >1</text>
<text x="60.40" y="152.00" font-size="6.6" fill="#3fb2e6" font-weight="normal" text-anchor="middle" stroke="#3fb2e6" stroke-width="0.18" >1</text>
<text x="72.00" y="152.00" font-size="6.6" fill="#3fb2e6" font-weight="normal" text-anchor="middle" stroke="#3fb2e6" stroke-width="0.18" >2</text>
<text x="84.60" y="152.00" font-size="6.6" fill="#3fb2e6" font-weight="normal" text-anchor="middle" stroke="#3fb2e6" stroke-width="0.18" >3</text>
<text x="100.80" y="152.00" font-size="6.6" fill="#3fb2e6" font-weight="normal" text-anchor="middle" stroke="#3fb2e6" stroke-width="0.18" >4</text>
<text x="114.00" y="152.00" font-size="6.6" fill="#3fb2e6" font-weight="normal" text-anchor="middle" stroke="#3fb2e6" stroke-width="0.18" >5</text>
<text x="125.50" y="152.00" font-size="6.6" fill="#d03aa0" font-weight="normal" text-anchor="middle" stroke="#d03aa0" stroke-width="0.18" >1</text>
<text x="139.30" y="152.00" font-size="6.6" fill="#d03aa0" font-weight="normal" text-anchor="middle" stroke="#d03aa0" stroke-width="0.18" >2</text>
<text x="150.40" y="152.00" font-size="6.6" fill="#d03aa0" font-weight="normal" text-anchor="middle" stroke="#d03aa0" stroke-width="0.18" >3</text>
<text x="173.30" y="152.00" font-size="6.6" fill="#d42a2a" font-weight="normal" text-anchor="middle" stroke="#d42a2a" stroke-width="0.18" >1</text>
<text x="186.00" y="152.00" font-size="6.6" fill="#2a2aa6" font-weight="normal" text-anchor="middle" stroke="#2a2aa6" stroke-width="0.18" >1</text>
<text x="198.20" y="152.00" font-size="6.6" fill="#2a2aa6" font-weight="normal" text-anchor="middle" stroke="#2a2aa6" stroke-width="0.18" >2</text>
<text x="211.80" y="152.00" font-size="6.6" fill="#2a2aa6" font-weight="normal" text-anchor="middle" stroke="#2a2aa6" stroke-width="0.18" >3</text>
<text x="224.50" y="152.00" font-size="6.6" fill="#2a2aa6" font-weight="normal" text-anchor="middle" stroke="#2a2aa6" stroke-width="0.18" >4</text>
<text x="237.80" y="152.00" font-size="6.6" fill="#2a2aa6" font-weight="normal" text-anchor="middle" stroke="#2a2aa6" stroke-width="0.18" >5</text>
<rect x="37.20" y="155.20" width="118.60" height="11.40" fill="url(#gPS)" stroke="#222" stroke-width="0.8" />
<rect x="39.25" y="159.30" width="11.10" height="3.20" rx="1.20" fill="#000" opacity="0.77" filter="url(#bl)"/>
<rect x="51.95" y="159.20" width="11.60" height="3.40" rx="1.20" fill="#000" opacity="0.94" filter="url(#bl)"/>
<rect x="64.90" y="159.20" width="11.60" height="3.40" rx="1.20" fill="#000" opacity="0.88" filter="url(#bl)"/>
<rect x="77.85" y="159.20" width="11.60" height="3.40" rx="1.20" fill="#000" opacity="0.94" filter="url(#bl)"/>
<rect x="89.80" y="157.20" width="13.60" height="7.40" rx="1.20" fill="#000" opacity="1.00" filter="url(#bl)"/>
<rect x="104.25" y="160.10" width="10.60" height="2.60" rx="1.20" fill="#000" opacity="0.39" filter="url(#bl)"/>
<rect x="116.70" y="159.30" width="11.60" height="3.20" rx="1.20" fill="#000" opacity="0.88" filter="url(#bl)"/>
<rect x="130.15" y="160.20" width="10.60" height="2.40" rx="1.20" fill="#000" opacity="0.28" filter="url(#bl)"/>
<rect x="142.60" y="159.30" width="11.60" height="3.20" rx="1.20" fill="#000" opacity="0.83" filter="url(#bl)"/>
<text x="36.60" y="163.60" font-size="7.2" fill="#111" font-weight="bold" text-anchor="end" stroke="#111" stroke-width="0.18" textLength="26.1" lengthAdjust="spacingAndGlyphs" >p-STAT3</text>
<rect x="37.20" y="168.20" width="118.60" height="10.10" fill="#e6e6e6" stroke="#222" stroke-width="0.8" />
<rect x="39.00" y="172.35" width="11.60" height="3.40" rx="1.20" fill="#000" opacity="0.99" filter="url(#bl)"/>
<rect x="51.95" y="172.35" width="11.60" height="3.40" rx="1.20" fill="#000" opacity="0.99" filter="url(#bl)"/>
<rect x="64.90" y="172.25" width="11.60" height="3.60" rx="1.20" fill="#000" opacity="1.00" filter="url(#bl)"/>
<rect x="77.85" y="172.35" width="11.60" height="3.40" rx="1.20" fill="#000" opacity="0.99" filter="url(#bl)"/>
<rect x="89.80" y="169.55" width="13.60" height="7.40" rx="1.20" fill="#000" opacity="1.00" filter="url(#bl)"/>
<rect x="104.25" y="172.55" width="10.60" height="3.00" rx="1.20" fill="#000" opacity="0.99" filter="url(#bl)"/>
<rect x="116.70" y="172.25" width="11.60" height="3.60" rx="1.20" fill="#000" opacity="1.00" filter="url(#bl)"/>
<rect x="129.65" y="172.35" width="11.60" height="3.40" rx="1.20" fill="#000" opacity="0.99" filter="url(#bl)"/>
<rect x="142.60" y="172.25" width="11.60" height="3.60" rx="1.20" fill="#000" opacity="0.99" filter="url(#bl)"/>
<text x="36.60" y="174.30" font-size="7.2" fill="#111" font-weight="bold" text-anchor="end" stroke="#111" stroke-width="0.18" textLength="19.5" lengthAdjust="spacingAndGlyphs" >STAT3</text>
<rect x="37.20" y="187.80" width="118.60" height="10.10" fill="#d4d4d4" stroke="#222" stroke-width="0.8" />
<rect x="39.25" y="191.40" width="11.10" height="2.90" rx="1.20" fill="#000" opacity="0.66" filter="url(#bl)"/>
<rect x="51.95" y="191.15" width="11.60" height="3.40" rx="1.20" fill="#000" opacity="0.94" filter="url(#bl)"/>
<rect x="64.90" y="191.15" width="11.60" height="3.40" rx="1.20" fill="#000" opacity="0.88" filter="url(#bl)"/>
<rect x="77.85" y="191.35" width="11.60" height="3.00" rx="1.20" fill="#000" opacity="0.77" filter="url(#bl)"/>
<rect x="90.05" y="190.40" width="13.10" height="4.90" rx="1.20" fill="#000" opacity="1.00" filter="url(#bl)"/>
<rect x="104.25" y="191.55" width="10.60" height="2.60" rx="1.20" fill="#000" opacity="0.22" filter="url(#bl)"/>
<rect x="116.70" y="191.35" width="11.60" height="3.00" rx="1.20" fill="#000" opacity="0.66" filter="url(#bl)"/>
<rect x="130.15" y="191.65" width="10.60" height="2.40" rx="1.20" fill="#000" opacity="0.13" filter="url(#bl)"/>
<rect x="142.60" y="191.40" width="11.60" height="2.90" rx="1.20" fill="#000" opacity="0.50" filter="url(#bl)"/>
<text x="36.60" y="195.60" font-size="7.2" fill="#111" font-weight="bold" text-anchor="end" stroke="#111" stroke-width="0.18" textLength="27.6" lengthAdjust="spacingAndGlyphs" >p-ERK1/2</text>
<rect x="37.20" y="199.20" width="118.60" height="10.10" fill="#cfcfcf" stroke="#222" stroke-width="0.8" />
<rect x="38.50" y="201.85" width="12.60" height="5.40" rx="1.20" fill="#000" opacity="1.00" filter="url(#bl)"/>
<rect x="51.45" y="201.85" width="12.60" height="5.40" rx="1.20" fill="#000" opacity="1.00" filter="url(#bl)"/>
<rect x="64.40" y="201.75" width="12.60" height="5.60" rx="1.20" fill="#000" opacity="1.00" filter="url(#bl)"/>
<rect x="77.35" y="201.75" width="12.60" height="5.60" rx="1.20" fill="#000" opacity="1.00" filter="url(#bl)"/>
<rect x="89.55" y="199.55" width="14.10" height="9.40" rx="1.20" fill="#000" opacity="1.00" filter="url(#bl)"/>
<rect x="103.75" y="202.10" width="11.60" height="4.90" rx="1.20" fill="#000" opacity="1.00" filter="url(#bl)"/>
<rect x="116.20" y="201.85" width="12.60" height="5.40" rx="1.20" fill="#000" opacity="1.00" filter="url(#bl)"/>
<rect x="129.15" y="201.95" width="12.60" height="5.20" rx="1.20" fill="#000" opacity="1.00" filter="url(#bl)"/>
<rect x="142.10" y="201.85" width="12.60" height="5.40" rx="1.20" fill="#000" opacity="1.00" filter="url(#bl)"/>
<text x="36.60" y="206.20" font-size="7.2" fill="#111" font-weight="bold" text-anchor="end" stroke="#111" stroke-width="0.18" textLength="21.7" lengthAdjust="spacingAndGlyphs" >ERK1/2</text>
<rect x="37.20" y="218.00" width="118.60" height="9.70" fill="#f2f2f2" stroke="#222" stroke-width="0.8" />
<rect x="39.00" y="221.55" width="11.60" height="3.00" rx="1.20" fill="#000" opacity="0.99" filter="url(#bl)"/>
<rect x="51.95" y="221.55" width="11.60" height="3.00" rx="1.20" fill="#000" opacity="0.99" filter="url(#bl)"/>
<rect x="64.90" y="221.55" width="11.60" height="3.00" rx="1.20" fill="#000" opacity="0.99" filter="url(#bl)"/>
<rect x="77.85" y="221.55" width="11.60" height="3.00" rx="1.20" fill="#000" opacity="0.99" filter="url(#bl)"/>
<rect x="90.55" y="221.05" width="12.10" height="3.60" rx="1.20" fill="#000" opacity="1.00" filter="url(#bl)"/>
<rect x="104.25" y="221.75" width="10.60" height="2.60" rx="1.20" fill="#000" opacity="0.94" filter="url(#bl)"/>
<rect x="116.70" y="221.55" width="11.60" height="3.00" rx="1.20" fill="#000" opacity="0.99" filter="url(#bl)"/>
<rect x="129.65" y="221.65" width="11.60" height="2.80" rx="1.20" fill="#000" opacity="0.94" filter="url(#bl)"/>
<rect x="142.60" y="221.55" width="11.60" height="3.00" rx="1.20" fill="#000" opacity="0.99" filter="url(#bl)"/>
<text x="36.60" y="223.90" font-size="7.2" fill="#111" font-weight="bold" text-anchor="end" stroke="#111" stroke-width="0.18" textLength="20.6" lengthAdjust="spacingAndGlyphs" >β-Actin</text>
<rect x="166.80" y="155.80" width="79.60" height="11.10" fill="#747474" stroke="#222" stroke-width="0.8" />
<rect x="179.70" y="156.60" width="1.00" height="9.50" fill="#b8b8b8" stroke="none" stroke-width="0" />
<rect x="192.00" y="156.60" width="1.00" height="9.50" fill="#b8b8b8" stroke="none" stroke-width="0" />
<rect x="205.00" y="156.60" width="1.00" height="9.50" fill="#b8b8b8" stroke="none" stroke-width="0" />
<rect x="218.00" y="156.60" width="1.00" height="9.50" fill="#b8b8b8" stroke="none" stroke-width="0" />
<rect x="230.90" y="156.60" width="1.00" height="9.50" fill="#b8b8b8" stroke="none" stroke-width="0" />
<rect x="168.60" y="160.65" width="10.00" height="3.40" rx="1.20" fill="#000" opacity="0.33" filter="url(#bl)"/>
<rect x="181.40" y="160.55" width="10.00" height="3.60" rx="1.20" fill="#000" opacity="0.88" filter="url(#bl)"/>
<rect x="194.10" y="160.40" width="10.00" height="3.90" rx="1.20" fill="#000" opacity="0.94" filter="url(#bl)"/>
<rect x="207.30" y="160.40" width="10.00" height="3.90" rx="1.20" fill="#000" opacity="0.99" filter="url(#bl)"/>
<rect x="220.00" y="160.40" width="10.00" height="3.90" rx="1.20" fill="#000" opacity="0.99" filter="url(#bl)"/>
<rect x="232.70" y="160.65" width="10.00" height="3.40" rx="1.20" fill="#000" opacity="0.61" filter="url(#bl)"/>
<rect x="166.80" y="169.00" width="79.60" height="9.50" fill="#e2e2e2" stroke="#222" stroke-width="0.8" />
<rect x="168.35" y="172.00" width="10.50" height="3.90" rx="1.20" fill="#000" opacity="1.00" filter="url(#bl)"/>
<rect x="181.15" y="172.00" width="10.50" height="3.90" rx="1.20" fill="#000" opacity="1.00" filter="url(#bl)"/>
<rect x="193.85" y="172.00" width="10.50" height="3.90" rx="1.20" fill="#000" opacity="1.00" filter="url(#bl)"/>
<rect x="207.05" y="172.00" width="10.50" height="3.90" rx="1.20" fill="#000" opacity="1.00" filter="url(#bl)"/>
<rect x="219.75" y="172.00" width="10.50" height="3.90" rx="1.20" fill="#000" opacity="1.00" filter="url(#bl)"/>
<rect x="232.45" y="172.00" width="10.50" height="3.90" rx="1.20" fill="#000" opacity="1.00" filter="url(#bl)"/>
<rect x="166.80" y="187.00" width="79.60" height="10.60" fill="#8c8c8c" stroke="#222" stroke-width="0.8" />
<rect x="168.60" y="190.60" width="10.00" height="3.40" rx="1.20" fill="#000" opacity="0.50" filter="url(#bl)"/>
<rect x="181.40" y="190.60" width="10.00" height="3.40" rx="1.20" fill="#000" opacity="0.50" filter="url(#bl)"/>
<rect x="193.60" y="190.20" width="11.00" height="4.20" rx="1.20" fill="#000" opacity="1.00" filter="url(#bl)"/>
<rect x="206.80" y="190.20" width="11.00" height="4.20" rx="1.20" fill="#000" opacity="1.00" filter="url(#bl)"/>
<rect x="219.50" y="190.30" width="11.00" height="4.00" rx="1.20" fill="#000" opacity="0.99" filter="url(#bl)"/>
<rect x="232.70" y="190.60" width="10.00" height="3.40" rx="1.20" fill="#000" opacity="0.61" filter="url(#bl)"/>
<rect x="166.80" y="199.80" width="79.60" height="9.90" fill="#dcdcdc" stroke="#222" stroke-width="0.8" />
<rect x="168.10" y="202.65" width="11.00" height="4.20" rx="1.20" fill="#000" opacity="1.00" filter="url(#bl)"/>
<rect x="180.90" y="202.65" width="11.00" height="4.20" rx="1.20" fill="#000" opacity="1.00" filter="url(#bl)"/>
<rect x="193.60" y="202.65" width="11.00" height="4.20" rx="1.20" fill="#000" opacity="1.00" filter="url(#bl)"/>
<rect x="206.80" y="202.65" width="11.00" height="4.20" rx="1.20" fill="#000" opacity="1.00" filter="url(#bl)"/>
<rect x="219.50" y="202.65" width="11.00" height="4.20" rx="1.20" fill="#000" opacity="1.00" filter="url(#bl)"/>
<rect x="232.20" y="202.65" width="11.00" height="4.20" rx="1.20" fill="#000" opacity="1.00" filter="url(#bl)"/>
<rect x="166.80" y="218.20" width="79.60" height="9.20" fill="#f4f4f4" stroke="#222" stroke-width="0.8" />
<rect x="168.35" y="221.30" width="10.50" height="3.00" rx="1.20" fill="#000" opacity="0.99" filter="url(#bl)"/>
<rect x="181.15" y="221.30" width="10.50" height="3.00" rx="1.20" fill="#000" opacity="0.99" filter="url(#bl)"/>
<rect x="193.85" y="221.30" width="10.50" height="3.00" rx="1.20" fill="#000" opacity="0.99" filter="url(#bl)"/>
<rect x="207.05" y="221.30" width="10.50" height="3.00" rx="1.20" fill="#000" opacity="0.99" filter="url(#bl)"/>
<rect x="219.75" y="221.30" width="10.50" height="3.00" rx="1.20" fill="#000" opacity="0.99" filter="url(#bl)"/>
<rect x="232.45" y="221.30" width="10.50" height="3.00" rx="1.20" fill="#000" opacity="0.99" filter="url(#bl)"/>
<text x="46.70" y="184.50" font-size="5.2" fill="#222" font-weight="normal" text-anchor="middle" stroke="#222" stroke-width="0.18" >1</text>
<text x="58.20" y="184.50" font-size="5.2" fill="#222" font-weight="normal" text-anchor="middle" stroke="#222" stroke-width="0.18" >3.3</text>
<text x="71.80" y="184.50" font-size="5.2" fill="#222" font-weight="normal" text-anchor="middle" stroke="#222" stroke-width="0.18" >2.1</text>
<text x="84.90" y="184.50" font-size="5.2" fill="#222" font-weight="normal" text-anchor="middle" stroke="#222" stroke-width="0.18" >2.2</text>
<text x="98.30" y="184.50" font-size="5.2" fill="#222" font-weight="normal" text-anchor="middle" stroke="#222" stroke-width="0.18" >2.8</text>
<text x="113.40" y="184.50" font-size="5.2" fill="#222" font-weight="normal" text-anchor="middle" stroke="#222" stroke-width="0.18" >1.5</text>
<text x="125.30" y="184.50" font-size="5.2" fill="#222" font-weight="normal" text-anchor="middle" stroke="#222" stroke-width="0.18" >1.5</text>
<text x="137.40" y="184.50" font-size="5.2" fill="#222" font-weight="normal" text-anchor="middle" stroke="#222" stroke-width="0.18" >0.6</text>
<text x="150.00" y="184.50" font-size="5.2" fill="#222" font-weight="normal" text-anchor="middle" stroke="#222" stroke-width="0.18" >1.4</text>
<text x="46.70" y="215.40" font-size="5.2" fill="#222" font-weight="normal" text-anchor="middle" stroke="#222" stroke-width="0.18" >1</text>
<text x="58.70" y="215.40" font-size="5.2" fill="#222" font-weight="normal" text-anchor="middle" stroke="#222" stroke-width="0.18" >3.1</text>
<text x="71.80" y="215.40" font-size="5.2" fill="#222" font-weight="normal" text-anchor="middle" stroke="#222" stroke-width="0.18" >1.9</text>
<text x="84.90" y="215.40" font-size="5.2" fill="#222" font-weight="normal" text-anchor="middle" stroke="#222" stroke-width="0.18" >1.8</text>
<text x="97.80" y="215.40" font-size="5.2" fill="#222" font-weight="normal" text-anchor="middle" stroke="#222" stroke-width="0.18" >2.5</text>
<text x="112.80" y="215.40" font-size="5.2" fill="#222" font-weight="normal" text-anchor="middle" stroke="#222" stroke-width="0.18" >1.2</text>
<text x="124.80" y="215.40" font-size="5.2" fill="#222" font-weight="normal" text-anchor="middle" stroke="#222" stroke-width="0.18" >1.3</text>
<text x="137.40" y="215.40" font-size="5.2" fill="#222" font-weight="normal" text-anchor="middle" stroke="#222" stroke-width="0.18" >0.4</text>
<text x="149.60" y="215.40" font-size="5.2" fill="#222" font-weight="normal" text-anchor="middle" stroke="#222" stroke-width="0.18" >1.0</text>
<text x="176.60" y="184.80" font-size="5.2" fill="#222" font-weight="normal" text-anchor="middle" stroke="#222" stroke-width="0.18" >1</text>
<text x="187.50" y="184.80" font-size="5.2" fill="#222" font-weight="normal" text-anchor="middle" stroke="#222" stroke-width="0.18" >1.6</text>
<text x="198.80" y="184.80" font-size="5.2" fill="#222" font-weight="normal" text-anchor="middle" stroke="#222" stroke-width="0.18" >2.5</text>
<text x="213.00" y="184.80" font-size="5.2" fill="#222" font-weight="normal" text-anchor="middle" stroke="#222" stroke-width="0.18" >3.0</text>
<text x="224.20" y="184.80" font-size="5.2" fill="#222" font-weight="normal" text-anchor="middle" stroke="#222" stroke-width="0.18" >2.5</text>
<text x="240.50" y="184.80" font-size="5.2" fill="#222" font-weight="normal" text-anchor="middle" stroke="#222" stroke-width="0.18" >1.2</text>
<text x="175.80" y="215.90" font-size="5.2" fill="#222" font-weight="normal" text-anchor="middle" stroke="#222" stroke-width="0.18" >1</text>
<text x="187.90" y="215.90" font-size="5.2" fill="#222" font-weight="normal" text-anchor="middle" stroke="#222" stroke-width="0.18" >0.7</text>
<text x="200.10" y="215.90" font-size="5.2" fill="#222" font-weight="normal" text-anchor="middle" stroke="#222" stroke-width="0.18" >3.7</text>
<text x="214.00" y="215.90" font-size="5.2" fill="#222" font-weight="normal" text-anchor="middle" stroke="#222" stroke-width="0.18" >2.4</text>
<text x="227.90" y="215.90" font-size="5.2" fill="#222" font-weight="normal" text-anchor="middle" stroke="#222" stroke-width="0.18" >2.3</text>
<text x="240.50" y="215.90" font-size="5.2" fill="#222" font-weight="normal" text-anchor="middle" stroke="#222" stroke-width="0.18" >1.0</text>
<text x="256.50" y="136.20" font-size="11.5" fill="#111" font-weight="bold" text-anchor="start" stroke="#111" stroke-width="0.18" >C</text>
<line x1="282.40" y1="146.80" x2="282.40" y2="217.20" stroke="#333" stroke-width="1.0" />
<line x1="280.40" y1="217.00" x2="282.40" y2="217.00" stroke="#333" stroke-width="0.9" />
<text x="280.30" y="219.30" font-size="6.6" fill="#111" font-weight="bold" text-anchor="end" stroke="#111" stroke-width="0.18" >0</text>
<line x1="280.40" y1="204.14" x2="282.40" y2="204.14" stroke="#333" stroke-width="0.9" />
<text x="280.30" y="206.44" font-size="6.6" fill="#111" font-weight="bold" text-anchor="end" stroke="#111" stroke-width="0.18" >20</text>
<line x1="280.40" y1="191.28" x2="282.40" y2="191.28" stroke="#333" stroke-width="0.9" />
<text x="280.30" y="193.58" font-size="6.6" fill="#111" font-weight="bold" text-anchor="end" stroke="#111" stroke-width="0.18" >40</text>
<line x1="280.40" y1="178.42" x2="282.40" y2="178.42" stroke="#333" stroke-width="0.9" />
<text x="280.30" y="180.72" font-size="6.6" fill="#111" font-weight="bold" text-anchor="end" stroke="#111" stroke-width="0.18" >60</text>
<line x1="280.40" y1="165.56" x2="282.40" y2="165.56" stroke="#333" stroke-width="0.9" />
<text x="280.30" y="167.86" font-size="6.6" fill="#111" font-weight="bold" text-anchor="end" stroke="#111" stroke-width="0.18" >80</text>
<line x1="280.40" y1="152.70" x2="282.40" y2="152.70" stroke="#333" stroke-width="0.9" />
<text x="280.30" y="155.00" font-size="6.6" fill="#111" font-weight="bold" text-anchor="end" stroke="#111" stroke-width="0.18" >100</text>
<line x1="282.40" y1="217.20" x2="381.00" y2="217.20" stroke="#333" stroke-width="1.0" />
<line x1="301.00" y1="217.20" x2="301.00" y2="219.40" stroke="#333" stroke-width="0.8" />
<line x1="306.87" y1="217.20" x2="306.87" y2="218.50" stroke="#333" stroke-width="0.5" />
<line x1="310.30" y1="217.20" x2="310.30" y2="218.50" stroke="#333" stroke-width="0.5" />
<line x1="312.74" y1="217.20" x2="312.74" y2="218.50" stroke="#333" stroke-width="0.5" />
<line x1="314.63" y1="217.20" x2="314.63" y2="218.50" stroke="#333" stroke-width="0.5" />
<line x1="316.17" y1="217.20" x2="316.17" y2="218.50" stroke="#333" stroke-width="0.5" />
<line x1="317.48" y1="217.20" x2="317.48" y2="218.50" stroke="#333" stroke-width="0.5" />
<line x1="318.61" y1="217.20" x2="318.61" y2="218.50" stroke="#333" stroke-width="0.5" />
<line x1="319.61" y1="217.20" x2="319.61" y2="218.50" stroke="#333" stroke-width="0.5" />
<line x1="320.50" y1="217.20" x2="320.50" y2="219.40" stroke="#333" stroke-width="0.8" />
<line x1="326.37" y1="217.20" x2="326.37" y2="218.50" stroke="#333" stroke-width="0.5" />
<line x1="329.80" y1="217.20" x2="329.80" y2="218.50" stroke="#333" stroke-width="0.5" />
<line x1="332.24" y1="217.20" x2="332.24" y2="218.50" stroke="#333" stroke-width="0.5" />
<line x1="334.13" y1="217.20" x2="334.13" y2="218.50" stroke="#333" stroke-width="0.5" />
<line x1="335.67" y1="217.20" x2="335.67" y2="218.50" stroke="#333" stroke-width="0.5" />
<line x1="336.98" y1="217.20" x2="336.98" y2="218.50" stroke="#333" stroke-width="0.5" />
<line x1="338.11" y1="217.20" x2="338.11" y2="218.50" stroke="#333" stroke-width="0.5" />
<line x1="339.11" y1="217.20" x2="339.11" y2="218.50" stroke="#333" stroke-width="0.5" />
<line x1="340.00" y1="217.20" x2="340.00" y2="219.40" stroke="#333" stroke-width="0.8" />
<line x1="345.87" y1="217.20" x2="345.87" y2="218.50" stroke="#333" stroke-width="0.5" />
<line x1="349.30" y1="217.20" x2="349.30" y2="218.50" stroke="#333" stroke-width="0.5" />
<line x1="351.74" y1="217.20" x2="351.74" y2="218.50" stroke="#333" stroke-width="0.5" />
<line x1="353.63" y1="217.20" x2="353.63" y2="218.50" stroke="#333" stroke-width="0.5" />
<line x1="355.17" y1="217.20" x2="355.17" y2="218.50" stroke="#333" stroke-width="0.5" />
<line x1="356.48" y1="217.20" x2="356.48" y2="218.50" stroke="#333" stroke-width="0.5" />
<line x1="357.61" y1="217.20" x2="357.61" y2="218.50" stroke="#333" stroke-width="0.5" />
<line x1="358.61" y1="217.20" x2="358.61" y2="218.50" stroke="#333" stroke-width="0.5" />
<line x1="359.50" y1="217.20" x2="359.50" y2="219.40" stroke="#333" stroke-width="0.8" />
<line x1="365.37" y1="217.20" x2="365.37" y2="218.50" stroke="#333" stroke-width="0.5" />
<line x1="368.80" y1="217.20" x2="368.80" y2="218.50" stroke="#333" stroke-width="0.5" />
<line x1="371.24" y1="217.20" x2="371.24" y2="218.50" stroke="#333" stroke-width="0.5" />
<line x1="373.13" y1="217.20" x2="373.13" y2="218.50" stroke="#333" stroke-width="0.5" />
<line x1="374.67" y1="217.20" x2="374.67" y2="218.50" stroke="#333" stroke-width="0.5" />
<line x1="375.98" y1="217.20" x2="375.98" y2="218.50" stroke="#333" stroke-width="0.5" />
<line x1="377.11" y1="217.20" x2="377.11" y2="218.50" stroke="#333" stroke-width="0.5" />
<line x1="378.11" y1="217.20" x2="378.11" y2="218.50" stroke="#333" stroke-width="0.5" />
<line x1="379.00" y1="217.20" x2="379.00" y2="219.40" stroke="#333" stroke-width="0.8" />
<line x1="282.40" y1="217.20" x2="282.40" y2="219.40" stroke="#333" stroke-width="0.8" />
<text x="282.20" y="227.80" font-size="6.4" fill="#111" font-weight="bold" text-anchor="middle" stroke="#111" stroke-width="0.18" >0</text>
<text x="298.50" y="227.80" font-size="6.4" fill="#111" font-weight="bold" text-anchor="middle" stroke="#111" stroke-width="0.18" >0.001</text>
<text x="320.50" y="227.80" font-size="6.4" fill="#111" font-weight="bold" text-anchor="middle" stroke="#111" stroke-width="0.18" >0.01</text>
<text x="340.40" y="227.80" font-size="6.4" fill="#111" font-weight="bold" text-anchor="middle" stroke="#111" stroke-width="0.18" >0.1</text>
<text x="359.20" y="227.80" font-size="6.4" fill="#111" font-weight="bold" text-anchor="middle" stroke="#111" stroke-width="0.18" >1</text>
<text x="377.00" y="227.80" font-size="6.4" fill="#111" font-weight="bold" text-anchor="middle" stroke="#111" stroke-width="0.18" >10</text>
<text x="328.50" y="238.30" font-size="7.4" fill="#111" font-weight="bold" text-anchor="middle" stroke="#111" stroke-width="0.18" textLength="73.5" lengthAdjust="spacingAndGlyphs" >Concentration (μmol/L)</text>
<text x="264.60" y="187.00" font-size="8.4" fill="#111" font-weight="bold" text-anchor="middle" stroke="#111" stroke-width="0.18" textLength="55.8" lengthAdjust="spacingAndGlyphs" transform="rotate(-90 264.60 187.00)" >Cell viability (%)</text>
<polyline fill="none" stroke="#e8782e" stroke-width="1.6" points="282.40,152.70 289.30,152.99 289.75,153.00 290.20,153.01 290.65,153.02 291.10,153.03 291.55,153.04 292.01,153.05 292.46,153.06 292.91,153.07 293.36,153.09 293.81,153.10 294.26,153.11 294.71,153.13 295.16,153.14 295.61,153.16 296.06,153.17 296.52,153.19 296.97,153.20 297.42,153.22 297.87,153.24 298.32,153.25 298.77,153.27 299.22,153.29 299.67,153.31 300.12,153.33 300.57,153.35 301.03,153.37 301.48,153.40 301.93,153.42 302.38,153.44 302.83,153.47 303.28,153.49 303.73,153.52 304.18,153.54 304.63,153.57 305.08,153.60 305.53,153.63 305.99,153.66 306.44,153.69 306.89,153.73 307.34,153.76 307.79,153.79 308.24,153.83 308.69,153.87 309.14,153.90 309.59,153.94 310.04,153.98 310.50,154.03 310.95,154.07 311.40,154.11 311.85,154.16 312.30,154.21 312.75,154.26 313.20,154.31 313.65,154.36 314.10,154.41 314.55,154.47 315.01,154.53 315.46,154.59 315.91,154.65 316.36,154.71 316.81,154.77 317.26,154.84 317.71,154.91 318.16,154.98 318.61,155.05 319.06,155.13 319.51,155.21 319.97,155.29 320.42,155.37 320.87,155.45 321.32,155.54 321.77,155.63 322.22,155.72 322.67,155.82 323.12,155.92 323.57,156.02 324.02,156.12 324.48,156.23 324.93,156.34 325.38,156.45 325.83,156.57 326.28,156.69 326.73,156.81 327.18,156.94 327.63,157.07 328.08,157.20 328.53,157.34 328.99,157.48 329.44,157.63 329.89,157.78 330.34,157.93 330.79,158.09 331.24,158.25 331.69,158.42 332.14,158.59 332.59,158.76 333.04,158.94 333.49,159.13 333.95,159.32 334.40,159.51 334.85,159.71 335.30,159.91 335.75,160.12 336.20,160.33 336.65,160.55 337.10,160.78 337.55,161.01 338.00,161.24 338.46,161.48 338.91,161.72 339.36,161.98 339.81,162.23 340.26,162.49 340.71,162.76 341.16,163.03 341.61,163.31 342.06,163.60 342.51,163.89 342.97,164.18 343.42,164.48 343.87,164.79 344.32,165.10 344.77,165.42 345.22,165.75 345.67,166.08 346.12,166.41 346.57,166.75 347.02,167.10 347.47,167.45 347.93,167.81 348.38,168.17 348.83,168.54 349.28,168.91 349.73,169.29 350.18,169.67 350.63,170.06 351.08,170.45 351.53,170.85 351.98,171.25 352.44,171.65 352.89,172.06 353.34,172.47 353.79,172.89 354.24,173.31 354.69,173.74 355.14,174.16 355.59,174.59 356.04,175.03 356.49,175.46 356.95,175.90 357.40,176.34 357.85,176.79 358.30,177.23 358.75,177.67 359.20,178.12 359.65,178.57 360.10,179.02 360.55,179.47 361.00,179.92 361.45,180.37 361.91,180.82 362.36,181.27 362.81,181.71 363.26,182.16 363.71,182.61 364.16,183.05 364.61,183.50 365.06,183.94 365.51,184.38 365.96,184.81 366.42,185.25 366.87,185.68 367.32,186.11 367.77,186.53 368.22,186.96 368.67,187.38 369.12,187.79 369.57,188.20 370.02,188.61 370.47,189.01 370.93,189.41 371.38,189.81 371.83,190.20 372.28,190.58 372.73,190.96 373.18,191.34 373.63,191.71 374.08,192.07 374.53,192.43 374.98,192.79 375.43,193.13 375.89,193.48 376.34,193.82 376.79,194.15 377.24,194.48 377.69,194.80 378.14,195.11 378.59,195.42 379.04,195.73 379.49,196.02"/>
<polyline fill="none" stroke="#33c433" stroke-width="2.0" points="282.40,152.70 289.30,152.70 289.75,152.70 290.20,152.70 290.65,152.70 291.10,152.70 291.55,152.70 292.01,152.70 292.46,152.70 292.91,152.70 293.36,152.70 293.81,152.70 294.26,152.70 294.71,152.70 295.16,152.70 295.61,152.70 296.06,152.70 296.52,152.70 296.97,152.70 297.42,152.70 297.87,152.70 298.32,152.70 298.77,152.70 299.22,152.70 299.67,152.70 300.12,152.70 300.57,152.70 301.03,152.70 301.48,152.70 301.93,152.70 302.38,152.70 302.83,152.70 303.28,152.70 303.73,152.70 304.18,152.70 304.63,152.70 305.08,152.70 305.53,152.70 305.99,152.70 306.44,152.70 306.89,152.70 307.34,152.70 307.79,152.70 308.24,152.70 308.69,152.70 309.14,152.70 309.59,152.70 310.04,152.70 310.50,152.70 310.95,152.70 311.40,152.70 311.85,152.70 312.30,152.70 312.75,152.70 313.20,152.70 313.65,152.70 314.10,152.70 314.55,152.70 315.01,152.70 315.46,152.70 315.91,152.70 316.36,152.70 316.81,152.70 317.26,152.70 317.71,152.70 318.16,152.70 318.61,152.70 319.06,152.70 319.51,152.70 319.97,152.70 320.42,152.70 320.87,152.70 321.32,152.70 321.77,152.70 322.22,152.70 322.67,152.70 323.12,152.70 323.57,152.70 324.02,152.70 324.48,152.70 324.93,152.70 325.38,152.70 325.83,152.70 326.28,152.70 326.73,152.70 327.18,152.70 327.63,152.70 328.08,152.70 328.53,152.70 328.99,152.70 329.44,152.70 329.89,152.70 330.34,152.70 330.79,152.70 331.24,152.70 331.69,152.70 332.14,152.70 332.59,152.70 333.04,152.70 333.49,152.70 333.95,152.70 334.40,152.70 334.85,152.70 335.30,152.71 335.75,152.71 336.20,152.71 336.65,152.71 337.10,152.71 337.55,152.71 338.00,152.71 338.46,152.71 338.91,152.71 339.36,152.71 339.81,152.71 340.26,152.72 340.71,152.72 341.16,152.72 341.61,152.72 342.06,152.73 342.51,152.73 342.97,152.73 343.42,152.73 343.87,152.74 344.32,152.74 344.77,152.75 345.22,152.75 345.67,152.76 346.12,152.77 346.57,152.77 347.02,152.78 347.47,152.79 347.93,152.80 348.38,152.81 348.83,152.82 349.28,152.84 349.73,152.85 350.18,152.87 350.63,152.89 351.08,152.91 351.53,152.94 351.98,152.96 352.44,152.99 352.89,153.02 353.34,153.06 353.79,153.10 354.24,153.14 354.69,153.19 355.14,153.25 355.59,153.31 356.04,153.38 356.49,153.45 356.95,153.54 357.40,153.63 357.85,153.73 358.30,153.85 358.75,153.97 359.20,154.11 359.65,154.27 360.10,154.44 360.55,154.63 361.00,154.84 361.45,155.07 361.91,155.32 362.36,155.61 362.81,155.92 363.26,156.26 363.71,156.63 364.16,157.05 364.61,157.50 365.06,157.99 365.51,158.53 365.96,159.12 366.42,159.77 366.87,160.46 367.32,161.22 367.77,162.04 368.22,162.92 368.67,163.87 369.12,164.89 369.57,165.98 370.02,167.13 370.47,168.36 370.93,169.66 371.38,171.02 371.83,172.44 372.28,173.93 372.73,175.47 373.18,177.06 373.63,178.69 374.08,180.36 374.53,182.05 374.98,183.75 375.43,185.46 375.89,187.17 376.34,188.87 376.79,190.54 377.24,192.18 377.69,193.78 378.14,195.34 378.59,196.84 379.04,198.28 379.49,199.66"/>
<line x1="301.00" y1="147.55" x2="301.00" y2="157.85" stroke="#33c433" stroke-width="0.7" />
<circle cx="301.00" cy="152.70" r="1.30" fill="#1a9a1a" stroke="none" stroke-width="0"/>
<line x1="320.50" y1="148.84" x2="320.50" y2="156.56" stroke="#33c433" stroke-width="0.7" />
<circle cx="320.50" cy="152.70" r="1.30" fill="#1a9a1a" stroke="none" stroke-width="0"/>
<line x1="340.00" y1="149.48" x2="340.00" y2="155.92" stroke="#33c433" stroke-width="0.7" />
<circle cx="340.00" cy="152.70" r="1.30" fill="#1a9a1a" stroke="none" stroke-width="0"/>
<line x1="359.50" y1="146.90" x2="359.50" y2="162.36" stroke="#33c433" stroke-width="0.7" />
<circle cx="359.50" cy="154.63" r="1.30" fill="#1a9a1a" stroke="none" stroke-width="0"/>
<line x1="367.69" y1="158.48" x2="367.69" y2="167.50" stroke="#33c433" stroke-width="0.7" />
<circle cx="367.69" cy="162.99" r="1.30" fill="#1a9a1a" stroke="none" stroke-width="0"/>
<line x1="372.91" y1="172.63" x2="372.91" y2="180.35" stroke="#33c433" stroke-width="0.7" />
<circle cx="372.91" cy="176.49" r="1.30" fill="#1a9a1a" stroke="none" stroke-width="0"/>
<line x1="379.25" y1="197.06" x2="379.25" y2="204.79" stroke="#33c433" stroke-width="0.7" />
<circle cx="379.25" cy="200.93" r="1.30" fill="#1a9a1a" stroke="none" stroke-width="0"/>
<line x1="301.80" y1="150.76" x2="301.80" y2="163.64" stroke="#f0a060" stroke-width="0.7" />
<circle cx="301.80" cy="157.20" r="1.00" fill="#e8782e" stroke="none" stroke-width="0"/>
<line x1="321.30" y1="153.33" x2="321.30" y2="168.79" stroke="#f0a060" stroke-width="0.7" />
<circle cx="321.30" cy="161.06" r="1.00" fill="#e8782e" stroke="none" stroke-width="0"/>
<line x1="340.80" y1="161.05" x2="340.80" y2="170.07" stroke="#f0a060" stroke-width="0.7" />
<circle cx="340.80" cy="165.56" r="1.00" fill="#e8782e" stroke="none" stroke-width="0"/>
<line x1="360.30" y1="169.41" x2="360.30" y2="179.71" stroke="#f0a060" stroke-width="0.7" />
<circle cx="360.30" cy="174.56" r="1.00" fill="#e8782e" stroke="none" stroke-width="0"/>
<line x1="369.02" y1="179.70" x2="369.02" y2="191.29" stroke="#f0a060" stroke-width="0.7" />
<circle cx="369.02" cy="185.49" r="1.00" fill="#e8782e" stroke="none" stroke-width="0"/>
<line x1="373.93" y1="188.06" x2="373.93" y2="197.07" stroke="#f0a060" stroke-width="0.7" />
<circle cx="373.93" cy="192.57" r="1.00" fill="#e8782e" stroke="none" stroke-width="0"/>
<line x1="380.05" y1="197.06" x2="380.05" y2="208.65" stroke="#f0a060" stroke-width="0.7" />
<circle cx="380.05" cy="202.85" r="1.00" fill="#e8782e" stroke="none" stroke-width="0"/>
<line x1="287.60" y1="176.10" x2="295.80" y2="176.10" stroke="#33c433" stroke-width="1.2" />
<circle cx="291.70" cy="176.10" r="1.30" fill="#1a9a1a" stroke="none" stroke-width="0"/>
<text x="297.20" y="178.60" font-size="6.3" fill="#2a9a50" font-weight="bold" text-anchor="start" stroke="#2a9a50" stroke-width="0.18" textLength="34" lengthAdjust="spacingAndGlyphs" >Ruxolitinib (R)</text>
<line x1="287.60" y1="186.70" x2="295.80" y2="186.70" stroke="#e8782e" stroke-width="1.2" />
<circle cx="291.70" cy="186.70" r="1.10" fill="#e8782e" stroke="none" stroke-width="0"/>
<text x="296.60" y="189.40" font-size="6.3" fill="#d8783a" font-weight="bold" text-anchor="start" stroke="#d8783a" stroke-width="0.18" textLength="35.4" lengthAdjust="spacingAndGlyphs" >Trametinib  (T)</text>
<text x="392.20" y="136.30" font-size="11.5" fill="#111" font-weight="bold" text-anchor="start" stroke="#111" stroke-width="0.18" >D</text>
<text x="435.10" y="143.20" font-size="5.4" fill="#333" font-weight="bold" text-anchor="middle" stroke="#333" stroke-width="0.18" textLength="22" lengthAdjust="spacingAndGlyphs" transform="rotate(-90 435.10 143.20)" >Untreated</text>
<text x="446.60" y="144.20" font-size="5.6" fill="#333" font-weight="bold" text-anchor="middle" stroke="#333" stroke-width="0.18" textLength="22.2" lengthAdjust="spacingAndGlyphs" transform="rotate(-90 446.60 144.20)" >CM alone</text>
<text x="476.30" y="137.40" font-size="7.6" fill="#3fb2e6" font-weight="bold" text-anchor="middle" stroke="#3fb2e6" stroke-width="0.18" textLength="48.6" lengthAdjust="spacingAndGlyphs" >NB + CAF-MSC</text>
<line x1="448.00" y1="141.00" x2="503.20" y2="141.00" stroke="#3a3030" stroke-width="1.0" />
<text x="459.80" y="152.00" font-size="7" fill="#3a9a5a" font-weight="bold" text-anchor="middle" stroke="#3a9a5a" stroke-width="0.18" >R</text>
<text x="474.00" y="152.00" font-size="7" fill="#c87448" font-weight="bold" text-anchor="middle" stroke="#c87448" stroke-width="0.18" >T</text>
<text x="490.60" y="152.00" font-size="7" fill="#111" font-weight="bold" text-anchor="middle" stroke="#111" stroke-width="0.18" textLength="15" lengthAdjust="spacingAndGlyphs" >R + T</text>
<rect x="428.80" y="157.40" width="75.60" height="10.30" fill="#efefef" stroke="#222" stroke-width="0.8" />
<rect x="429.90" y="161.00" width="10.20" height="3.10" rx="1.20" fill="#000" opacity="0.04" filter="url(#bl)"/>
<rect x="442.55" y="159.90" width="11.70" height="5.70" rx="1.20" fill="#000" opacity="1.00" filter="url(#bl)"/>
<rect x="458.40" y="161.00" width="11.20" height="3.10" rx="1.20" fill="#000" opacity="0.07" filter="url(#bl)"/>
<rect x="473.25" y="161.80" width="11.50" height="3.90" rx="1.20" fill="#000" opacity="1.00" filter="url(#bl)"/>
<rect x="489.40" y="161.00" width="10.20" height="3.10" rx="1.20" fill="#000" opacity="0.06" filter="url(#bl)"/>
<text x="426.00" y="164.80" font-size="7.0" fill="#111" font-weight="bold" text-anchor="end" stroke="#111" stroke-width="0.18" textLength="25.5" lengthAdjust="spacingAndGlyphs" >p-STAT3</text>
<rect x="428.80" y="169.60" width="75.60" height="11.00" fill="#dedede" stroke="#222" stroke-width="0.8" />
<rect x="430.95" y="173.35" width="11.50" height="5.10" rx="1.20" fill="#000" opacity="1.00" filter="url(#bl)"/>
<rect x="445.70" y="173.35" width="12.20" height="5.10" rx="1.20" fill="#000" opacity="1.00" filter="url(#bl)"/>
<rect x="460.45" y="173.35" width="12.70" height="5.10" rx="1.20" fill="#000" opacity="1.00" filter="url(#bl)"/>
<rect x="475.70" y="173.55" width="12.20" height="4.70" rx="1.20" fill="#000" opacity="1.00" filter="url(#bl)"/>
<rect x="491.00" y="173.75" width="10.00" height="4.30" rx="1.20" fill="#000" opacity="1.00" filter="url(#bl)"/>
<text x="426.00" y="175.00" font-size="7.0" fill="#111" font-weight="bold" text-anchor="end" stroke="#111" stroke-width="0.18" textLength="19.6" lengthAdjust="spacingAndGlyphs" >STAT3</text>
<rect x="428.80" y="188.60" width="75.60" height="10.30" fill="#eeeeee" stroke="#222" stroke-width="0.8" />
<rect x="429.40" y="192.40" width="11.60" height="4.50" rx="1.20" fill="#000" opacity="0.99" filter="url(#bl)"/>
<rect x="444.85" y="191.90" width="10.70" height="5.50" rx="1.20" fill="#000" opacity="1.00" filter="url(#bl)"/>
<rect x="459.40" y="192.50" width="12.40" height="4.90" rx="1.20" fill="#000" opacity="1.00" filter="url(#bl)"/>
<rect x="474.90" y="192.20" width="11.20" height="3.10" rx="1.20" fill="#000" opacity="0.06" filter="url(#bl)"/>
<rect x="490.40" y="192.20" width="10.20" height="3.10" rx="1.20" fill="#000" opacity="0.06" filter="url(#bl)"/>
<text x="426.00" y="196.10" font-size="7.0" fill="#111" font-weight="bold" text-anchor="end" stroke="#111" stroke-width="0.18" textLength="27.6" lengthAdjust="spacingAndGlyphs" >p-ERK1/2</text>
<rect x="428.80" y="200.90" width="75.60" height="10.20" fill="#dcdcdc" stroke="#222" stroke-width="0.8" />
<rect x="430.95" y="204.95" width="11.50" height="4.90" rx="1.20" fill="#000" opacity="1.00" filter="url(#bl)"/>
<rect x="445.60" y="204.95" width="10.80" height="4.90" rx="1.20" fill="#000" opacity="1.00" filter="url(#bl)"/>
<rect x="459.40" y="204.95" width="12.40" height="4.90" rx="1.20" fill="#000" opacity="1.00" filter="url(#bl)"/>
<rect x="474.85" y="205.25" width="11.50" height="4.30" rx="1.20" fill="#000" opacity="1.00" filter="url(#bl)"/>
<rect x="489.40" y="205.05" width="10.00" height="4.30" rx="1.20" fill="#000" opacity="1.00" filter="url(#bl)"/>
<text x="426.00" y="206.10" font-size="7.0" fill="#111" font-weight="bold" text-anchor="end" stroke="#111" stroke-width="0.18" textLength="21.1" lengthAdjust="spacingAndGlyphs" >ERK1/2</text>
<rect x="428.80" y="217.60" width="75.60" height="10.40" fill="#e6e6e6" stroke="#222" stroke-width="0.8" />
<rect x="430.95" y="221.05" width="11.50" height="4.70" rx="1.20" fill="#000" opacity="1.00" filter="url(#bl)"/>
<rect x="445.60" y="221.05" width="10.80" height="4.70" rx="1.20" fill="#000" opacity="1.00" filter="url(#bl)"/>
<rect x="459.40" y="221.05" width="12.40" height="4.70" rx="1.20" fill="#000" opacity="1.00" filter="url(#bl)"/>
<rect x="474.85" y="221.25" width="11.50" height="4.30" rx="1.20" fill="#000" opacity="1.00" filter="url(#bl)"/>
<rect x="489.40" y="221.25" width="10.00" height="4.30" rx="1.20" fill="#000" opacity="1.00" filter="url(#bl)"/>
<text x="426.00" y="225.00" font-size="7.0" fill="#111" font-weight="bold" text-anchor="end" stroke="#111" stroke-width="0.18" textLength="20.7" lengthAdjust="spacingAndGlyphs" >β-Actin</text>
<text x="1.00" y="254.00" font-size="11.5" fill="#111" font-weight="bold" text-anchor="start" stroke="#111" stroke-width="0.18" >E</text>
<text x="7.50" y="306.10" font-size="8.0" fill="#111" font-weight="bold" text-anchor="middle" stroke="#111" stroke-width="0.18" textLength="90.4" lengthAdjust="spacingAndGlyphs" transform="rotate(-90 7.50 306.10)" >Cell viability (fold change)</text>
<line x1="26.40" y1="266.00" x2="26.40" y2="338.00" stroke="#333" stroke-width="1.0" />
<line x1="24.40" y1="268.10" x2="26.40" y2="268.10" stroke="#333" stroke-width="0.9" />
<text x="22.80" y="270.40" font-size="6.6" fill="#111" font-weight="bold" text-anchor="end" stroke="#111" stroke-width="0.18" >2.0</text>
<line x1="24.40" y1="285.45" x2="26.40" y2="285.45" stroke="#333" stroke-width="0.9" />
<text x="22.80" y="287.75" font-size="6.6" fill="#111" font-weight="bold" text-anchor="end" stroke="#111" stroke-width="0.18" >1.5</text>
<line x1="24.40" y1="302.80" x2="26.40" y2="302.80" stroke="#333" stroke-width="0.9" />
<text x="22.80" y="305.10" font-size="6.6" fill="#111" font-weight="bold" text-anchor="end" stroke="#111" stroke-width="0.18" >1.0</text>
<line x1="24.40" y1="320.15" x2="26.40" y2="320.15" stroke="#333" stroke-width="0.9" />
<text x="22.80" y="322.45" font-size="6.6" fill="#111" font-weight="bold" text-anchor="end" stroke="#111" stroke-width="0.18" >0.5</text>
<line x1="24.40" y1="337.50" x2="26.40" y2="337.50" stroke="#333" stroke-width="0.9" />
<text x="22.80" y="338.00" font-size="6.6" fill="#111" font-weight="bold" text-anchor="end" stroke="#111" stroke-width="0.18" >0</text>
<line x1="26.40" y1="338.00" x2="125.00" y2="338.00" stroke="#333" stroke-width="1.0" />
<line x1="44.10" y1="338.00" x2="44.10" y2="340.00" stroke="#333" stroke-width="0.8" />
<line x1="61.30" y1="338.00" x2="61.30" y2="340.00" stroke="#333" stroke-width="0.8" />
<line x1="78.90" y1="338.00" x2="78.90" y2="340.00" stroke="#333" stroke-width="0.8" />
<line x1="96.00" y1="338.00" x2="96.00" y2="340.00" stroke="#333" stroke-width="0.8" />
<line x1="114.20" y1="338.00" x2="114.20" y2="340.00" stroke="#333" stroke-width="0.8" />
<circle cx="44.10" cy="303.40" r="2.00" fill="#d42a2a" stroke="none" stroke-width="0"/>
<line x1="61.30" y1="277.00" x2="61.30" y2="293.10" stroke="#5aa8e0" stroke-width="0.8" />
<line x1="59.70" y1="277.00" x2="62.90" y2="277.00" stroke="#5aa8e0" stroke-width="0.8" />
<line x1="59.70" y1="293.10" x2="62.90" y2="293.10" stroke="#5aa8e0" stroke-width="0.8" />
<line x1="78.90" y1="283.60" x2="78.90" y2="298.80" stroke="#3fbf3f" stroke-width="0.8" />
<line x1="77.30" y1="283.60" x2="80.50" y2="283.60" stroke="#3fbf3f" stroke-width="0.8" />
<line x1="77.30" y1="298.80" x2="80.50" y2="298.80" stroke="#3fbf3f" stroke-width="0.8" />
<line x1="96.00" y1="293.00" x2="96.00" y2="302.90" stroke="#f0a060" stroke-width="0.8" />
<line x1="94.40" y1="293.00" x2="97.60" y2="293.00" stroke="#f0a060" stroke-width="0.8" />
<line x1="94.40" y1="302.90" x2="97.60" y2="302.90" stroke="#f0a060" stroke-width="0.8" />
<line x1="114.20" y1="308.00" x2="114.20" y2="317.80" stroke="#111" stroke-width="0.8" />
<line x1="112.60" y1="308.00" x2="115.80" y2="308.00" stroke="#111" stroke-width="0.8" />
<line x1="112.60" y1="317.80" x2="115.80" y2="317.80" stroke="#111" stroke-width="0.8" />
<circle cx="61.30" cy="285.00" r="2.30" fill="#7ab8e8" stroke="#4a98d0" stroke-width="0.6"/>
<rect x="76.70" y="289.50" width="4.40" height="4.40" fill="#1eaa1e" stroke="none" stroke-width="0" />
<circle cx="96.00" cy="298.00" r="2.30" fill="#f0a070" stroke="#e8782e" stroke-width="0.6"/>
<path d="M111.5,310.4 L116.9,310.4 L114.2,314.8 Z" fill="#111"/>
<path d="M71.10,260.60 L71.10,258.50 L115.50,258.50 L115.50,260.60" fill="none" stroke="#444" stroke-width="0.8"/>
<circle cx="102.60" cy="254.80" r="1.35" fill="#222" stroke="none" stroke-width="0"/>
<circle cx="105.90" cy="254.80" r="1.35" fill="#222" stroke="none" stroke-width="0"/>
<circle cx="109.20" cy="254.80" r="1.35" fill="#222" stroke="none" stroke-width="0"/>
<circle cx="112.50" cy="254.80" r="1.35" fill="#222" stroke="none" stroke-width="0"/>
<path d="M67.10,266.10 L67.10,263.80 L102.60,263.80 L102.60,266.10" fill="none" stroke="#444" stroke-width="0.8"/>
<circle cx="94.70" cy="260.90" r="1.35" fill="#222" stroke="none" stroke-width="0"/>
<circle cx="98.00" cy="260.90" r="1.35" fill="#222" stroke="none" stroke-width="0"/>
<path d="M41.20,273.20 L41.20,271.40 L61.40,271.40 L61.40,273.20" fill="none" stroke="#444" stroke-width="0.8"/>
<circle cx="47.40" cy="266.40" r="1.35" fill="#222" stroke="none" stroke-width="0"/>
<circle cx="50.60" cy="266.40" r="1.35" fill="#222" stroke="none" stroke-width="0"/>
<circle cx="53.80" cy="266.40" r="1.35" fill="#222" stroke="none" stroke-width="0"/>
<path d="M62.20,273.70 L62.20,271.90 L81.30,271.90 L81.30,273.70" fill="none" stroke="#444" stroke-width="0.8"/>
<line x1="61.40" y1="271.40" x2="61.40" y2="273.80" stroke="#444" stroke-width="0.8" />
<text x="71.50" y="269.50" font-size="4.6" fill="#333" font-weight="normal" text-anchor="middle" stroke="#333" stroke-width="0.18" >n.s.</text>
<text x="0" y="0" font-size="5.9" fill="#c8303a" font-weight="bold" text-anchor="middle" stroke="#c8303a" stroke-width="0.18" transform="translate(38.00 346.60) scale(0.77 1)">NB</text>
<text x="0" y="0" font-size="5.9" fill="#c8303a" font-weight="bold" text-anchor="middle" stroke="#c8303a" stroke-width="0.18" transform="translate(38.00 353.10) scale(0.77 1)">CM</text>
<text x="0" y="0" font-size="5.7" fill="#35b0d0" font-weight="bold" text-anchor="middle" stroke="#35b0d0" stroke-width="0.18" transform="translate(53.40 347.20) scale(0.77 1)">NB/</text>
<text x="0" y="0" font-size="5.7" fill="#35b0d0" font-weight="bold" text-anchor="middle" stroke="#35b0d0" stroke-width="0.18" transform="translate(53.40 353.50) scale(0.77 1)">CAF-MSC</text>
<text x="0" y="0" font-size="5.7" fill="#35b0d0" font-weight="bold" text-anchor="middle" stroke="#35b0d0" stroke-width="0.18" transform="translate(53.40 359.80) scale(0.77 1)">CM</text>
<text x="0" y="0" font-size="5.7" fill="#2eaa4a" font-weight="bold" text-anchor="middle" stroke="#2eaa4a" stroke-width="0.18" transform="translate(74.60 347.20) scale(0.77 1)">NB/</text>
<text x="0" y="0" font-size="5.7" fill="#2eaa4a" font-weight="bold" text-anchor="middle" stroke="#2eaa4a" stroke-width="0.18" transform="translate(74.60 353.50) scale(0.77 1)">CAF-MSC</text>
<text x="0" y="0" font-size="5.7" fill="#2eaa4a" font-weight="bold" text-anchor="middle" stroke="#2eaa4a" stroke-width="0.18" transform="translate(74.60 359.80) scale(0.77 1)">CM +</text>
<text x="0" y="0" font-size="5.7" fill="#2eaa4a" font-weight="bold" text-anchor="middle" stroke="#2eaa4a" stroke-width="0.18" transform="translate(74.60 366.10) scale(0.77 1)">R</text>
<text x="0" y="0" font-size="5.7" fill="#e8782e" font-weight="bold" text-anchor="middle" stroke="#e8782e" stroke-width="0.18" transform="translate(96.20 347.20) scale(0.77 1)">NB/</text>
<text x="0" y="0" font-size="5.7" fill="#e8782e" font-weight="bold" text-anchor="middle" stroke="#e8782e" stroke-width="0.18" transform="translate(96.20 353.50) scale(0.77 1)">CAF-MSC</text>
<text x="0" y="0" font-size="5.7" fill="#e8782e" font-weight="bold" text-anchor="middle" stroke="#e8782e" stroke-width="0.18" transform="translate(96.20 359.80) scale(0.77 1)">CM +</text>
<text x="0" y="0" font-size="5.7" fill="#e8782e" font-weight="bold" text-anchor="middle" stroke="#e8782e" stroke-width="0.18" transform="translate(96.20 366.10) scale(0.77 1)">T</text>
<text x="0" y="0" font-size="5.7" fill="#111" font-weight="bold" text-anchor="middle" stroke="#111" stroke-width="0.18" transform="translate(118.00 347.20) scale(0.77 1)">NB/</text>
<text x="0" y="0" font-size="5.7" fill="#111" font-weight="bold" text-anchor="middle" stroke="#111" stroke-width="0.18" transform="translate(118.00 353.50) scale(0.77 1)">CAF-MSC</text>
<text x="0" y="0" font-size="5.7" fill="#111" font-weight="bold" text-anchor="middle" stroke="#111" stroke-width="0.18" transform="translate(118.00 359.80) scale(0.77 1)">CM +</text>
<text x="0" y="0" font-size="5.7" fill="#111" font-weight="bold" text-anchor="middle" stroke="#111" stroke-width="0.18" transform="translate(118.00 366.10) scale(0.77 1)">R + T</text>
<text x="149.80" y="254.00" font-size="11.5" fill="#111" font-weight="bold" text-anchor="start" stroke="#111" stroke-width="0.18" >F</text>
<text x="143.80" y="301.00" font-size="8.3" fill="#111" font-weight="bold" text-anchor="middle" stroke="#111" stroke-width="0.18" textLength="59.5" lengthAdjust="spacingAndGlyphs" transform="rotate(-90 143.80 301.00)" >Cell viability (%)</text>
<line x1="163.40" y1="264.00" x2="163.40" y2="336.20" stroke="#333" stroke-width="1.0" />
<line x1="161.40" y1="335.00" x2="163.40" y2="335.00" stroke="#333" stroke-width="0.9" />
<text x="160.20" y="337.50" font-size="6.8" fill="#111" font-weight="bold" text-anchor="end" stroke="#111" stroke-width="0.18" >0</text>
<line x1="161.40" y1="322.24" x2="163.40" y2="322.24" stroke="#333" stroke-width="0.9" />
<text x="160.20" y="324.74" font-size="6.8" fill="#111" font-weight="bold" text-anchor="end" stroke="#111" stroke-width="0.18" textLength="6.3" lengthAdjust="spacingAndGlyphs" >20</text>
<line x1="161.40" y1="309.48" x2="163.40" y2="309.48" stroke="#333" stroke-width="0.9" />
<text x="160.20" y="311.98" font-size="6.8" fill="#111" font-weight="bold" text-anchor="end" stroke="#111" stroke-width="0.18" textLength="6.3" lengthAdjust="spacingAndGlyphs" >40</text>
<line x1="161.40" y1="296.72" x2="163.40" y2="296.72" stroke="#333" stroke-width="0.9" />
<text x="160.20" y="299.22" font-size="6.8" fill="#111" font-weight="bold" text-anchor="end" stroke="#111" stroke-width="0.18" textLength="6.3" lengthAdjust="spacingAndGlyphs" >60</text>
<line x1="161.40" y1="283.96" x2="163.40" y2="283.96" stroke="#333" stroke-width="0.9" />
<text x="160.20" y="286.46" font-size="6.8" fill="#111" font-weight="bold" text-anchor="end" stroke="#111" stroke-width="0.18" textLength="6.3" lengthAdjust="spacingAndGlyphs" >80</text>
<line x1="161.40" y1="271.20" x2="163.40" y2="271.20" stroke="#333" stroke-width="0.9" />
<text x="160.20" y="273.70" font-size="6.8" fill="#111" font-weight="bold" text-anchor="end" stroke="#111" stroke-width="0.18" textLength="9.4" lengthAdjust="spacingAndGlyphs" >100</text>
<line x1="163.40" y1="336.20" x2="261.60" y2="336.20" stroke="#333" stroke-width="1.0" />
<line x1="163.52" y1="336.20" x2="163.52" y2="337.60" stroke="#333" stroke-width="0.6" />
<line x1="167.79" y1="336.20" x2="167.79" y2="337.60" stroke="#333" stroke-width="0.6" />
<line x1="171.10" y1="336.20" x2="171.10" y2="337.60" stroke="#333" stroke-width="0.6" />
<line x1="173.81" y1="336.20" x2="173.81" y2="337.60" stroke="#333" stroke-width="0.6" />
<line x1="176.10" y1="336.20" x2="176.10" y2="337.60" stroke="#333" stroke-width="0.6" />
<line x1="178.09" y1="336.20" x2="178.09" y2="337.60" stroke="#333" stroke-width="0.6" />
<line x1="179.84" y1="336.20" x2="179.84" y2="337.60" stroke="#333" stroke-width="0.6" />
<line x1="181.40" y1="336.20" x2="181.40" y2="338.40" stroke="#333" stroke-width="0.8" />
<line x1="191.70" y1="336.20" x2="191.70" y2="337.60" stroke="#333" stroke-width="0.6" />
<line x1="197.72" y1="336.20" x2="197.72" y2="337.60" stroke="#333" stroke-width="0.6" />
<line x1="201.99" y1="336.20" x2="201.99" y2="337.60" stroke="#333" stroke-width="0.6" />
<line x1="205.30" y1="336.20" x2="205.30" y2="337.60" stroke="#333" stroke-width="0.6" />
<line x1="208.01" y1="336.20" x2="208.01" y2="337.60" stroke="#333" stroke-width="0.6" />
<line x1="210.30" y1="336.20" x2="210.30" y2="337.60" stroke="#333" stroke-width="0.6" />
<line x1="212.29" y1="336.20" x2="212.29" y2="337.60" stroke="#333" stroke-width="0.6" />
<line x1="214.04" y1="336.20" x2="214.04" y2="337.60" stroke="#333" stroke-width="0.6" />
<line x1="215.60" y1="336.20" x2="215.60" y2="338.40" stroke="#333" stroke-width="0.8" />
<line x1="225.90" y1="336.20" x2="225.90" y2="337.60" stroke="#333" stroke-width="0.6" />
<line x1="231.92" y1="336.20" x2="231.92" y2="337.60" stroke="#333" stroke-width="0.6" />
<line x1="236.19" y1="336.20" x2="236.19" y2="337.60" stroke="#333" stroke-width="0.6" />
<line x1="239.50" y1="336.20" x2="239.50" y2="337.60" stroke="#333" stroke-width="0.6" />
<line x1="242.21" y1="336.20" x2="242.21" y2="337.60" stroke="#333" stroke-width="0.6" />
<line x1="244.50" y1="336.20" x2="244.50" y2="337.60" stroke="#333" stroke-width="0.6" />
<line x1="246.49" y1="336.20" x2="246.49" y2="337.60" stroke="#333" stroke-width="0.6" />
<line x1="248.24" y1="336.20" x2="248.24" y2="337.60" stroke="#333" stroke-width="0.6" />
<line x1="249.80" y1="336.20" x2="249.80" y2="338.40" stroke="#333" stroke-width="0.8" />
<line x1="260.10" y1="336.20" x2="260.10" y2="337.60" stroke="#333" stroke-width="0.6" />
<text x="181.20" y="347.40" font-size="6.6" fill="#111" font-weight="bold" text-anchor="middle" stroke="#111" stroke-width="0.18" >0.01</text>
<text x="215.60" y="347.40" font-size="6.6" fill="#111" font-weight="bold" text-anchor="middle" stroke="#111" stroke-width="0.18" >0.1</text>
<text x="249.40" y="347.40" font-size="6.6" fill="#111" font-weight="bold" text-anchor="middle" stroke="#111" stroke-width="0.18" >1</text>
<text x="209.80" y="358.60" font-size="7.4" fill="#111" font-weight="bold" text-anchor="middle" stroke="#111" stroke-width="0.18" textLength="61" lengthAdjust="spacingAndGlyphs" >Etoposide (μmol/L)</text>
<polyline fill="none" stroke="#3fb2e6" stroke-width="1.3" points="163.40,271.21 164.01,271.21 164.63,271.21 165.24,271.21 165.86,271.22 166.47,271.22 167.08,271.22 167.70,271.22 168.31,271.22 168.92,271.22 169.54,271.22 170.15,271.23 170.77,271.23 171.38,271.23 171.99,271.23 172.61,271.24 173.22,271.24 173.83,271.24 174.45,271.24 175.06,271.25 175.68,271.25 176.29,271.26 176.90,271.26 177.52,271.27 178.13,271.27 178.74,271.28 179.36,271.28 179.97,271.29 180.59,271.29 181.20,271.30 181.81,271.31 182.43,271.32 183.04,271.33 183.65,271.34 184.27,271.35 184.88,271.36 185.50,271.37 186.11,271.38 186.72,271.40 187.34,271.41 187.95,271.43 188.56,271.45 189.18,271.47 189.79,271.49 190.41,271.51 191.02,271.54 191.63,271.56 192.25,271.59 192.86,271.62 193.47,271.65 194.09,271.69 194.70,271.72 195.31,271.76 195.93,271.81 196.54,271.85 197.16,271.90 197.77,271.96 198.38,272.02 199.00,272.08 199.61,272.15 200.23,272.22 200.84,272.30 201.45,272.38 202.07,272.47 202.68,272.57 203.29,272.67 203.91,272.78 204.52,272.90 205.14,273.03 205.75,273.17 206.36,273.32 206.98,273.47 207.59,273.64 208.20,273.83 208.82,274.02 209.43,274.23 210.05,274.45 210.66,274.69 211.27,274.95 211.89,275.22 212.50,275.51 213.11,275.82 213.73,276.15 214.34,276.51 214.96,276.88 215.57,277.28 216.18,277.70 216.80,278.15 217.41,278.63 218.02,279.14 218.64,279.67 219.25,280.24 219.87,280.83 220.48,281.46 221.09,282.12 221.71,282.81 222.32,283.54 222.93,284.30 223.55,285.10 224.16,285.93 224.78,286.79 225.39,287.69 226.00,288.62 226.62,289.59 227.23,290.58 227.84,291.60 228.46,292.66 229.07,293.73 229.69,294.83 230.30,295.96 230.91,297.10 231.53,298.26 232.14,299.43 232.75,300.61 233.37,301.80 233.98,302.99 234.60,304.19 235.21,305.37 235.82,306.56 236.44,307.73 237.05,308.89 237.66,310.04 238.28,311.16 238.89,312.27 239.51,313.35 240.12,314.41 240.73,315.44 241.35,316.44 241.96,317.41 242.57,318.34 243.19,319.25 243.80,320.12 244.42,320.95 245.03,321.76 245.64,322.52 246.26,323.26 246.87,323.96 247.48,324.62 248.10,325.26 248.71,325.86 249.33,326.43 249.94,326.97 250.55,327.48 251.17,327.96 251.78,328.42 252.39,328.85 253.01,329.25 253.62,329.63 254.24,329.98 254.85,330.32 255.46,330.63 256.08,330.93 256.69,331.20 257.30,331.46 257.92,331.70 258.53,331.93 259.15,332.14 259.76,332.34 260.37,332.52 260.99,332.70 261.60,332.86"/>
<polyline fill="none" stroke="#33c433" stroke-width="1.3" points="163.40,271.20 164.01,271.20 164.63,271.20 165.24,271.20 165.86,271.21 166.47,271.21 167.08,271.21 167.70,271.21 168.31,271.21 168.92,271.21 169.54,271.21 170.15,271.21 170.77,271.21 171.38,271.21 171.99,271.21 172.61,271.21 173.22,271.22 173.83,271.22 174.45,271.22 175.06,271.22 175.68,271.22 176.29,271.23 176.90,271.23 177.52,271.23 178.13,271.23 178.74,271.24 179.36,271.24 179.97,271.24 180.59,271.25 181.20,271.25 181.81,271.26 182.43,271.26 183.04,271.27 183.65,271.27 184.27,271.28 184.88,271.29 185.50,271.30 186.11,271.31 186.72,271.32 187.34,271.33 187.95,271.34 188.56,271.35 189.18,271.37 189.79,271.39 190.41,271.40 191.02,271.42 191.63,271.44 192.25,271.47 192.86,271.49 193.47,271.52 194.09,271.55 194.70,271.58 195.31,271.62 195.93,271.66 196.54,271.70 197.16,271.75 197.77,271.80 198.38,271.86 199.00,271.92 199.61,271.99 200.23,272.06 200.84,272.14 201.45,272.23 202.07,272.32 202.68,272.43 203.29,272.54 203.91,272.67 204.52,272.81 205.14,272.95 205.75,273.12 206.36,273.29 206.98,273.48 207.59,273.69 208.20,273.92 208.82,274.17 209.43,274.44 210.05,274.73 210.66,275.04 211.27,275.38 211.89,275.75 212.50,276.15 213.11,276.58 213.73,277.05 214.34,277.55 214.96,278.09 215.57,278.67 216.18,279.29 216.80,279.95 217.41,280.66 218.02,281.42 218.64,282.22 219.25,283.08 219.87,283.98 220.48,284.94 221.09,285.94 221.71,287.00 222.32,288.10 222.93,289.26 223.55,290.46 224.16,291.70 224.78,292.98 225.39,294.31 226.00,295.66 226.62,297.05 227.23,298.46 227.84,299.88 228.46,301.33 229.07,302.77 229.69,304.22 230.30,305.67 230.91,307.10 231.53,308.52 232.14,309.92 232.75,311.29 233.37,312.62 233.98,313.93 234.60,315.19 235.21,316.41 235.82,317.58 236.44,318.71 237.05,319.79 237.66,320.82 238.28,321.79 238.89,322.72 239.51,323.60 240.12,324.42 240.73,325.20 241.35,325.93 241.96,326.62 242.57,327.26 243.19,327.85 243.80,328.41 244.42,328.93 245.03,329.41 245.64,329.86 246.26,330.27 246.87,330.65 247.48,331.01 248.10,331.33 248.71,331.64 249.33,331.91 249.94,332.17 250.55,332.41 251.17,332.62 251.78,332.82 252.39,333.01 253.01,333.17 253.62,333.33 254.24,333.47 254.85,333.60 255.46,333.72 256.08,333.83 256.69,333.93 257.30,334.02 257.92,334.10 258.53,334.18 259.15,334.25 259.76,334.32 260.37,334.37 260.99,334.43 261.60,334.48"/>
<polyline fill="none" stroke="#e8782e" stroke-width="1.3" points="163.40,271.21 164.01,271.21 164.63,271.21 165.24,271.21 165.86,271.21 166.47,271.21 167.08,271.21 167.70,271.21 168.31,271.21 168.92,271.22 169.54,271.22 170.15,271.22 170.77,271.22 171.38,271.22 171.99,271.22 172.61,271.23 173.22,271.23 173.83,271.23 174.45,271.23 175.06,271.24 175.68,271.24 176.29,271.25 176.90,271.25 177.52,271.26 178.13,271.26 178.74,271.27 179.36,271.27 179.97,271.28 180.59,271.29 181.20,271.30 181.81,271.31 182.43,271.32 183.04,271.33 183.65,271.34 184.27,271.35 184.88,271.37 185.50,271.39 186.11,271.40 186.72,271.42 187.34,271.45 187.95,271.47 188.56,271.50 189.18,271.53 189.79,271.56 190.41,271.59 191.02,271.63 191.63,271.67 192.25,271.72 192.86,271.77 193.47,271.82 194.09,271.88 194.70,271.95 195.31,272.02 195.93,272.10 196.54,272.19 197.16,272.28 197.77,272.39 198.38,272.50 199.00,272.63 199.61,272.76 200.23,272.91 200.84,273.07 201.45,273.25 202.07,273.45 202.68,273.66 203.29,273.89 203.91,274.14 204.52,274.41 205.14,274.71 205.75,275.03 206.36,275.38 206.98,275.76 207.59,276.17 208.20,276.62 208.82,277.10 209.43,277.62 210.05,278.18 210.66,278.78 211.27,279.43 211.89,280.12 212.50,280.86 213.11,281.65 213.73,282.49 214.34,283.39 214.96,284.34 215.57,285.34 216.18,286.39 216.80,287.50 217.41,288.66 218.02,289.87 218.64,291.12 219.25,292.42 219.87,293.77 220.48,295.15 221.09,296.56 221.71,298.00 222.32,299.46 222.93,300.94 223.55,302.42 224.16,303.91 224.78,305.40 225.39,306.87 226.00,308.33 226.62,309.77 227.23,311.18 227.84,312.56 228.46,313.90 229.07,315.19 229.69,316.45 230.30,317.65 230.91,318.80 231.53,319.91 232.14,320.96 232.75,321.95 233.37,322.89 233.98,323.78 234.60,324.62 235.21,325.41 235.82,326.14 236.44,326.83 237.05,327.48 237.66,328.07 238.28,328.63 238.89,329.14 239.51,329.62 240.12,330.07 240.73,330.47 241.35,330.85 241.96,331.20 242.57,331.52 243.19,331.81 243.80,332.09 244.42,332.33 245.03,332.56 245.64,332.77 246.26,332.97 246.87,333.14 247.48,333.30 248.10,333.45 248.71,333.59 249.33,333.71 249.94,333.82 250.55,333.93 251.17,334.02 251.78,334.11 252.39,334.18 253.01,334.26 253.62,334.32 254.24,334.38 254.85,334.44 255.46,334.49 256.08,334.53 256.69,334.57 257.30,334.61 257.92,334.65 258.53,334.68 259.15,334.71 259.76,334.73 260.37,334.76 260.99,334.78 261.60,334.80"/>
<polyline fill="none" stroke="#a01818" stroke-width="1.3" points="163.40,271.21 164.01,271.21 164.63,271.21 165.24,271.21 165.86,271.21 166.47,271.22 167.08,271.22 167.70,271.22 168.31,271.22 168.92,271.22 169.54,271.23 170.15,271.23 170.77,271.23 171.38,271.24 171.99,271.24 172.61,271.24 173.22,271.25 173.83,271.26 174.45,271.26 175.06,271.27 175.68,271.27 176.29,271.28 176.90,271.29 177.52,271.30 178.13,271.31 178.74,271.32 179.36,271.34 179.97,271.35 180.59,271.37 181.20,271.38 181.81,271.40 182.43,271.43 183.04,271.45 183.65,271.48 184.27,271.51 184.88,271.54 185.50,271.57 186.11,271.61 186.72,271.66 187.34,271.71 187.95,271.76 188.56,271.82 189.18,271.88 189.79,271.96 190.41,272.04 191.02,272.12 191.63,272.22 192.25,272.33 192.86,272.45 193.47,272.57 194.09,272.72 194.70,272.88 195.31,273.05 195.93,273.24 196.54,273.45 197.16,273.68 197.77,273.93 198.38,274.21 199.00,274.51 199.61,274.85 200.23,275.21 200.84,275.61 201.45,276.04 202.07,276.52 202.68,277.03 203.29,277.59 203.91,278.19 204.52,278.85 205.14,279.56 205.75,280.32 206.36,281.14 206.98,282.02 207.59,282.96 208.20,283.97 208.82,285.03 209.43,286.16 210.05,287.35 210.66,288.60 211.27,289.91 211.89,291.28 212.50,292.69 213.11,294.16 213.73,295.67 214.34,297.21 214.96,298.79 215.57,300.38 216.18,301.99 216.80,303.60 217.41,305.22 218.02,306.82 218.64,308.40 219.25,309.95 219.87,311.48 220.48,312.96 221.09,314.40 221.71,315.78 222.32,317.11 222.93,318.39 223.55,319.60 224.16,320.75 224.78,321.84 225.39,322.87 226.00,323.83 226.62,324.73 227.23,325.58 227.84,326.36 228.46,327.09 229.07,327.76 229.69,328.39 230.30,328.97 230.91,329.50 231.53,329.98 232.14,330.43 232.75,330.84 233.37,331.22 233.98,331.56 234.60,331.88 235.21,332.17 235.82,332.43 236.44,332.67 237.05,332.88 237.66,333.08 238.28,333.26 238.89,333.42 239.51,333.57 240.12,333.71 240.73,333.83 241.35,333.94 241.96,334.04 242.57,334.13 243.19,334.21 243.80,334.29 244.42,334.36 245.03,334.42 245.64,334.47 246.26,334.52 246.87,334.57 247.48,334.61 248.10,334.65 248.71,334.68 249.33,334.71 249.94,334.74 250.55,334.76 251.17,334.79 251.78,334.81 252.39,334.83 253.01,334.84 253.62,334.86 254.24,334.87 254.85,334.88 255.46,334.90 256.08,334.91 256.69,334.91 257.30,334.92 257.92,334.93 258.53,334.94 259.15,334.94 259.76,334.95 260.37,334.95 260.99,334.96 261.60,334.96"/>
<polyline fill="none" stroke="#111" stroke-width="1.3" points="163.40,271.23 164.01,271.23 164.63,271.24 165.24,271.24 165.86,271.25 166.47,271.25 167.08,271.25 167.70,271.26 168.31,271.26 168.92,271.27 169.54,271.28 170.15,271.29 170.77,271.29 171.38,271.30 171.99,271.31 172.61,271.32 173.22,271.33 173.83,271.35 174.45,271.36 175.06,271.38 175.68,271.39 176.29,271.41 176.90,271.43 177.52,271.45 178.13,271.48 178.74,271.50 179.36,271.53 179.97,271.56 180.59,271.60 181.20,271.63 181.81,271.68 182.43,271.72 183.04,271.77 183.65,271.82 184.27,271.88 184.88,271.95 185.50,272.02 186.11,272.09 186.72,272.18 187.34,272.27 187.95,272.37 188.56,272.48 189.18,272.59 189.79,272.72 190.41,272.87 191.02,273.02 191.63,273.19 192.25,273.37 192.86,273.57 193.47,273.79 194.09,274.02 194.70,274.28 195.31,274.55 195.93,274.85 196.54,275.18 197.16,275.53 197.77,275.92 198.38,276.33 199.00,276.77 199.61,277.25 200.23,277.77 200.84,278.33 201.45,278.92 202.07,279.56 202.68,280.24 203.29,280.97 203.91,281.75 204.52,282.57 205.14,283.45 205.75,284.37 206.36,285.35 206.98,286.37 207.59,287.45 208.20,288.58 208.82,289.75 209.43,290.97 210.05,292.23 210.66,293.53 211.27,294.87 211.89,296.24 212.50,297.63 213.11,299.05 213.73,300.48 214.34,301.93 214.96,303.38 215.57,304.82 216.18,306.27 216.80,307.69 217.41,309.10 218.02,310.49 218.64,311.85 219.25,313.17 219.87,314.46 220.48,315.70 221.09,316.90 221.71,318.06 222.32,319.16 222.93,320.22 223.55,321.23 224.16,322.19 224.78,323.09 225.39,323.95 226.00,324.75 226.62,325.51 227.23,326.22 227.84,326.89 228.46,327.51 229.07,328.09 229.69,328.63 230.30,329.13 230.91,329.60 231.53,330.03 232.14,330.43 232.75,330.80 233.37,331.15 233.98,331.46 234.60,331.75 235.21,332.02 235.82,332.27 236.44,332.50 237.05,332.71 237.66,332.90 238.28,333.08 238.89,333.24 239.51,333.39 240.12,333.53 240.73,333.65 241.35,333.77 241.96,333.87 242.57,333.97 243.19,334.06 243.80,334.14 244.42,334.21 245.03,334.28 245.64,334.34 246.26,334.40 246.87,334.45 247.48,334.50 248.10,334.54 248.71,334.58 249.33,334.62 249.94,334.65 250.55,334.68 251.17,334.71 251.78,334.73 252.39,334.76 253.01,334.78 253.62,334.80 254.24,334.81 254.85,334.83 255.46,334.84 256.08,334.86 256.69,334.87 257.30,334.88 257.92,334.89 258.53,334.90 259.15,334.91 259.76,334.92 260.37,334.92 260.99,334.93 261.60,334.94"/>
<line x1="184.90" y1="264.00" x2="184.90" y2="274.00" stroke="#e0906a" stroke-width="0.7" />
<line x1="194.40" y1="267.00" x2="194.40" y2="276.00" stroke="#7a3030" stroke-width="0.7" />
<line x1="205.30" y1="264.00" x2="205.30" y2="279.00" stroke="#e0a070" stroke-width="0.7" />
<line x1="215.70" y1="264.00" x2="215.70" y2="300.00" stroke="#e0a070" stroke-width="0.7" />
<line x1="215.20" y1="306.00" x2="215.20" y2="312.00" stroke="#333" stroke-width="0.7" />
<line x1="226.00" y1="305.00" x2="226.00" y2="318.00" stroke="#f0a060" stroke-width="0.7" />
<line x1="237.00" y1="305.00" x2="237.00" y2="322.00" stroke="#9ac4e0" stroke-width="0.7" />
<line x1="248.50" y1="318.00" x2="248.50" y2="333.00" stroke="#8ad08a" stroke-width="0.7" />
<line x1="257.50" y1="322.00" x2="257.50" y2="335.00" stroke="#9ac4e0" stroke-width="0.7" />
<line x1="165.90" y1="300.00" x2="174.20" y2="300.00" stroke="#d42a2a" stroke-width="1.0" />
<circle cx="170.00" cy="300.00" r="0.90" fill="#d42a2a" stroke="none" stroke-width="0"/>
<text x="175.80" y="301.70" font-size="4.9" fill="#d42a2a" font-weight="bold" text-anchor="start" stroke="#d42a2a" stroke-width="0.18" textLength="14.4" lengthAdjust="spacingAndGlyphs" >NB CM</text>
<line x1="165.90" y1="307.80" x2="174.20" y2="307.80" stroke="#3fb2e6" stroke-width="1.0" />
<circle cx="170.00" cy="307.80" r="0.90" fill="#3fb2e6" stroke="none" stroke-width="0"/>
<text x="175.80" y="309.50" font-size="4.9" fill="#3fb2e6" font-weight="bold" text-anchor="start" stroke="#3fb2e6" stroke-width="0.18" textLength="35" lengthAdjust="spacingAndGlyphs" >NB/CAF-MSC CM</text>
<line x1="165.90" y1="315.40" x2="174.20" y2="315.40" stroke="#33c433" stroke-width="1.0" />
<circle cx="170.00" cy="315.40" r="0.90" fill="#33c433" stroke="none" stroke-width="0"/>
<text x="175.80" y="317.10" font-size="4.9" fill="#2eaa4a" font-weight="bold" text-anchor="start" stroke="#2eaa4a" stroke-width="0.18" textLength="43.1" lengthAdjust="spacingAndGlyphs" >NB/CAF-MSC CM + R</text>
<line x1="165.90" y1="323.00" x2="174.20" y2="323.00" stroke="#e8782e" stroke-width="1.0" />
<circle cx="170.00" cy="323.00" r="0.90" fill="#e8782e" stroke="none" stroke-width="0"/>
<text x="175.80" y="324.70" font-size="4.9" fill="#e8782e" font-weight="bold" text-anchor="start" stroke="#e8782e" stroke-width="0.18" textLength="41.9" lengthAdjust="spacingAndGlyphs" >NB/CAF-MSC CM + T</text>
<line x1="165.90" y1="331.00" x2="174.20" y2="331.00" stroke="#111" stroke-width="1.0" />
<circle cx="170.00" cy="331.00" r="0.90" fill="#111" stroke="none" stroke-width="0"/>
<text x="175.80" y="332.70" font-size="4.9" fill="#111" font-weight="bold" text-anchor="start" stroke="#111" stroke-width="0.18" textLength="50.2" lengthAdjust="spacingAndGlyphs" >NB/CAF-MSC CM + R + T</text>
<text x="253.80" y="254.00" font-size="11.5" fill="#111" font-weight="bold" text-anchor="start" stroke="#111" stroke-width="0.18" >G</text>
<text x="277.50" y="299.80" font-size="8.0" fill="#111" font-weight="bold" text-anchor="middle" stroke="#111" stroke-width="0.18" textLength="43.5" lengthAdjust="spacingAndGlyphs" transform="rotate(-90 277.50 299.80)" >Pixel density</text>
<line x1="307.20" y1="266.00" x2="307.20" y2="338.60" stroke="#333" stroke-width="1.0" />
<line x1="307.20" y1="338.60" x2="405.20" y2="338.60" stroke="#333" stroke-width="1.0" />
<line x1="305.20" y1="338.00" x2="307.20" y2="338.00" stroke="#333" stroke-width="0.9" />
<line x1="305.20" y1="314.90" x2="307.20" y2="314.90" stroke="#333" stroke-width="0.9" />
<line x1="305.20" y1="291.80" x2="307.20" y2="291.80" stroke="#333" stroke-width="0.9" />
<line x1="305.20" y1="268.70" x2="307.20" y2="268.70" stroke="#333" stroke-width="0.9" />
<line x1="415.40" y1="266.00" x2="415.40" y2="338.60" stroke="#333" stroke-width="1.0" />
<line x1="415.40" y1="338.60" x2="514.50" y2="338.60" stroke="#333" stroke-width="1.0" />
<line x1="413.40" y1="338.00" x2="415.40" y2="338.00" stroke="#333" stroke-width="0.9" />
<line x1="413.40" y1="314.90" x2="415.40" y2="314.90" stroke="#333" stroke-width="0.9" />
<line x1="413.40" y1="291.80" x2="415.40" y2="291.80" stroke="#333" stroke-width="0.9" />
<line x1="413.40" y1="268.70" x2="415.40" y2="268.70" stroke="#333" stroke-width="0.9" />
<text x="285.80" y="317.30" font-size="6.4" fill="#111" font-weight="bold" text-anchor="start" stroke="#111" stroke-width="0.18" textLength="14.8" lengthAdjust="spacingAndGlyphs" >1×10</text>
<text x="300.60" y="314.10" font-size="3.6" fill="#111" font-weight="bold" text-anchor="start" stroke="#111" stroke-width="0.18" >4</text>
<text x="285.80" y="294.20" font-size="6.4" fill="#111" font-weight="bold" text-anchor="start" stroke="#111" stroke-width="0.18" textLength="14.8" lengthAdjust="spacingAndGlyphs" >2×10</text>
<text x="300.60" y="291.00" font-size="3.6" fill="#111" font-weight="bold" text-anchor="start" stroke="#111" stroke-width="0.18" >4</text>
<text x="285.80" y="271.10" font-size="6.4" fill="#111" font-weight="bold" text-anchor="start" stroke="#111" stroke-width="0.18" textLength="14.8" lengthAdjust="spacingAndGlyphs" >3×10</text>
<text x="300.60" y="267.90" font-size="3.6" fill="#111" font-weight="bold" text-anchor="start" stroke="#111" stroke-width="0.18" >4</text>
<text x="305.20" y="340.20" font-size="5.8" fill="#111" font-weight="bold" text-anchor="end" stroke="#111" stroke-width="0.18" >0</text>
<line x1="313.10" y1="338.60" x2="313.10" y2="340.40" stroke="#333" stroke-width="0.7" />
<text x="0" y="0" font-size="4.6" fill="#111" font-weight="bold" text-anchor="end" stroke="#111" stroke-width="0.18" transform="translate(314.80 343.20) rotate(-90) scale(0.86 1)">MCP-1</text>
<text x="313.10" y="364.80" font-size="6.1" fill="#b83232" font-weight="bold" text-anchor="middle" stroke="#b83232" stroke-width="0.18" >1</text>
<line x1="421.00" y1="338.60" x2="421.00" y2="340.40" stroke="#333" stroke-width="0.7" />
<text x="0" y="0" font-size="4.6" fill="#111" font-weight="bold" text-anchor="end" stroke="#111" stroke-width="0.18" transform="translate(422.70 343.20) rotate(-90) scale(0.86 1)">MCP-1</text>
<text x="421.00" y="364.80" font-size="6.1" fill="#b83232" font-weight="bold" text-anchor="middle" stroke="#b83232" stroke-width="0.18" >1</text>
<line x1="325.67" y1="338.60" x2="325.67" y2="340.40" stroke="#333" stroke-width="0.7" />
<text x="0" y="0" font-size="4.6" fill="#111" font-weight="bold" text-anchor="end" stroke="#111" stroke-width="0.18" transform="translate(327.37 343.20) rotate(-90) scale(0.86 1)">CXCL1</text>
<text x="325.67" y="364.80" font-size="6.1" fill="#b83232" font-weight="bold" text-anchor="middle" stroke="#b83232" stroke-width="0.18" >2</text>
<line x1="433.50" y1="338.60" x2="433.50" y2="340.40" stroke="#333" stroke-width="0.7" />
<text x="0" y="0" font-size="4.6" fill="#111" font-weight="bold" text-anchor="end" stroke="#111" stroke-width="0.18" transform="translate(435.20 343.20) rotate(-90) scale(0.86 1)">CXCL1</text>
<text x="433.50" y="364.80" font-size="6.1" fill="#b83232" font-weight="bold" text-anchor="middle" stroke="#b83232" stroke-width="0.18" >2</text>
<line x1="338.24" y1="338.60" x2="338.24" y2="340.40" stroke="#333" stroke-width="0.7" />
<text x="0" y="0" font-size="4.6" fill="#111" font-weight="bold" text-anchor="end" stroke="#111" stroke-width="0.18" transform="translate(339.94 343.20) rotate(-90) scale(0.86 1)">SDF-1</text>
<text x="338.24" y="364.80" font-size="6.1" fill="#b83232" font-weight="bold" text-anchor="middle" stroke="#b83232" stroke-width="0.18" >3</text>
<line x1="446.00" y1="338.60" x2="446.00" y2="340.40" stroke="#333" stroke-width="0.7" />
<text x="0" y="0" font-size="4.6" fill="#111" font-weight="bold" text-anchor="end" stroke="#111" stroke-width="0.18" transform="translate(447.70 343.20) rotate(-90) scale(0.86 1)">SDF-1</text>
<text x="446.00" y="364.80" font-size="6.1" fill="#b83232" font-weight="bold" text-anchor="middle" stroke="#b83232" stroke-width="0.18" >3</text>
<line x1="350.81" y1="338.60" x2="350.81" y2="340.40" stroke="#333" stroke-width="0.7" />
<text x="0" y="0" font-size="4.6" fill="#111" font-weight="bold" text-anchor="end" stroke="#111" stroke-width="0.18" transform="translate(352.51 343.20) rotate(-90) scale(0.86 1)">ICAM</text>
<text x="350.81" y="364.80" font-size="6.1" fill="#b83232" font-weight="bold" text-anchor="middle" stroke="#b83232" stroke-width="0.18" >4</text>
<line x1="458.50" y1="338.60" x2="458.50" y2="340.40" stroke="#333" stroke-width="0.7" />
<text x="0" y="0" font-size="4.6" fill="#111" font-weight="bold" text-anchor="end" stroke="#111" stroke-width="0.18" transform="translate(460.20 343.20) rotate(-90) scale(0.86 1)">ICAM</text>
<text x="458.50" y="364.80" font-size="6.1" fill="#b83232" font-weight="bold" text-anchor="middle" stroke="#b83232" stroke-width="0.18" >4</text>
<line x1="363.38" y1="338.60" x2="363.38" y2="340.40" stroke="#333" stroke-width="0.7" />
<text x="0" y="0" font-size="4.6" fill="#111" font-weight="bold" text-anchor="end" stroke="#111" stroke-width="0.18" transform="translate(365.08 343.20) rotate(-90) scale(0.86 1)">IL-6</text>
<text x="363.38" y="364.80" font-size="6.1" fill="#b83232" font-weight="bold" text-anchor="middle" stroke="#b83232" stroke-width="0.18" >5</text>
<line x1="471.00" y1="338.60" x2="471.00" y2="340.40" stroke="#333" stroke-width="0.7" />
<text x="0" y="0" font-size="4.6" fill="#111" font-weight="bold" text-anchor="end" stroke="#111" stroke-width="0.18" transform="translate(472.70 343.20) rotate(-90) scale(0.86 1)">IL-6</text>
<text x="471.00" y="364.80" font-size="6.1" fill="#b83232" font-weight="bold" text-anchor="middle" stroke="#b83232" stroke-width="0.18" >5</text>
<line x1="375.95" y1="338.60" x2="375.95" y2="340.40" stroke="#333" stroke-width="0.7" />
<text x="0" y="0" font-size="4.6" fill="#111" font-weight="bold" text-anchor="end" stroke="#111" stroke-width="0.18" transform="translate(377.65 343.20) rotate(-90) scale(0.86 1)">IL-8</text>
<text x="375.95" y="364.80" font-size="6.1" fill="#b83232" font-weight="bold" text-anchor="middle" stroke="#b83232" stroke-width="0.18" >6</text>
<line x1="483.50" y1="338.60" x2="483.50" y2="340.40" stroke="#333" stroke-width="0.7" />
<text x="0" y="0" font-size="4.6" fill="#111" font-weight="bold" text-anchor="end" stroke="#111" stroke-width="0.18" transform="translate(485.20 343.20) rotate(-90) scale(0.86 1)">IL-8</text>
<text x="483.50" y="364.80" font-size="6.1" fill="#b83232" font-weight="bold" text-anchor="middle" stroke="#b83232" stroke-width="0.18" >6</text>
<line x1="388.52" y1="338.60" x2="388.52" y2="340.40" stroke="#333" stroke-width="0.7" />
<text x="0" y="0" font-size="4.6" fill="#111" font-weight="bold" text-anchor="end" stroke="#111" stroke-width="0.18" transform="translate(390.22 343.20) rotate(-90) scale(0.86 1)">PAI</text>
<text x="388.52" y="364.80" font-size="6.1" fill="#b83232" font-weight="bold" text-anchor="middle" stroke="#b83232" stroke-width="0.18" >7</text>
<line x1="496.00" y1="338.60" x2="496.00" y2="340.40" stroke="#333" stroke-width="0.7" />
<text x="0" y="0" font-size="4.6" fill="#111" font-weight="bold" text-anchor="end" stroke="#111" stroke-width="0.18" transform="translate(497.70 343.20) rotate(-90) scale(0.86 1)">PAI</text>
<text x="496.00" y="364.80" font-size="6.1" fill="#b83232" font-weight="bold" text-anchor="middle" stroke="#b83232" stroke-width="0.18" >7</text>
<line x1="401.09" y1="338.60" x2="401.09" y2="340.40" stroke="#333" stroke-width="0.7" />
<text x="0" y="0" font-size="4.6" fill="#111" font-weight="bold" text-anchor="end" stroke="#111" stroke-width="0.18" transform="translate(402.79 343.20) rotate(-90) scale(0.86 1)">MIF</text>
<text x="401.09" y="364.80" font-size="6.1" fill="#b83232" font-weight="bold" text-anchor="middle" stroke="#b83232" stroke-width="0.18" >8</text>
<line x1="508.50" y1="338.60" x2="508.50" y2="340.40" stroke="#333" stroke-width="0.7" />
<text x="0" y="0" font-size="4.6" fill="#111" font-weight="bold" text-anchor="end" stroke="#111" stroke-width="0.18" transform="translate(510.20 343.20) rotate(-90) scale(0.86 1)">MIF</text>
<text x="508.50" y="364.80" font-size="6.1" fill="#b83232" font-weight="bold" text-anchor="middle" stroke="#b83232" stroke-width="0.18" >8</text>
<text x="319.20" y="258.80" font-size="5.8" fill="#d42a2a" font-weight="bold" text-anchor="middle" stroke="#d42a2a" stroke-width="0.18" textLength="18.5" lengthAdjust="spacingAndGlyphs" >NB  CM</text>
<text x="353.80" y="258.80" font-size="5.8" fill="#3fb2e6" font-weight="bold" text-anchor="middle" stroke="#3fb2e6" stroke-width="0.18" textLength="32.3" lengthAdjust="spacingAndGlyphs" >CAF-MSC CM</text>
<text x="393.80" y="258.80" font-size="5.8" fill="#2a2aa6" font-weight="bold" text-anchor="middle" stroke="#2a2aa6" stroke-width="0.18" textLength="31.6" lengthAdjust="spacingAndGlyphs" >BM-MSC  CM</text>
<text x="441.80" y="258.60" font-size="5.8" fill="#3fb2e6" font-weight="bold" text-anchor="middle" stroke="#3fb2e6" stroke-width="0.18" textLength="43.5" lengthAdjust="spacingAndGlyphs" >NB/ CAF-MSC CM</text>
<text x="492.00" y="258.60" font-size="5.8" fill="#2a2aa6" font-weight="bold" text-anchor="middle" stroke="#2a2aa6" stroke-width="0.18" textLength="41.8" lengthAdjust="spacingAndGlyphs" >NB/ BM-MSC  CM</text>
<ellipse cx="309.10" cy="338.00" rx="2.30" ry="0.95" fill="#d42a2a"/>
<ellipse cx="313.10" cy="313.75" rx="2.30" ry="0.80" fill="#5ab4e8"/>
<ellipse cx="317.30" cy="303.35" rx="2.70" ry="1.20" fill="#1e1e8c"/>
<ellipse cx="321.67" cy="338.00" rx="2.30" ry="0.95" fill="#d42a2a"/>
<ellipse cx="325.67" cy="296.42" rx="2.30" ry="0.80" fill="#5ab4e8"/>
<ellipse cx="329.87" cy="337.54" rx="2.70" ry="1.20" fill="#1e1e8c"/>
<ellipse cx="334.24" cy="338.00" rx="2.30" ry="0.95" fill="#d42a2a"/>
<ellipse cx="338.24" cy="332.23" rx="2.30" ry="0.80" fill="#5ab4e8"/>
<ellipse cx="342.44" cy="311.44" rx="2.70" ry="1.20" fill="#1e1e8c"/>
<ellipse cx="346.81" cy="338.00" rx="2.30" ry="0.95" fill="#d42a2a"/>
<ellipse cx="350.81" cy="338.00" rx="2.30" ry="0.80" fill="#5ab4e8"/>
<ellipse cx="355.01" cy="336.61" rx="2.70" ry="1.20" fill="#1e1e8c"/>
<ellipse cx="359.38" cy="338.00" rx="2.30" ry="0.95" fill="#d42a2a"/>
<ellipse cx="363.38" cy="294.80" rx="2.30" ry="0.80" fill="#5ab4e8"/>
<ellipse cx="367.58" cy="280.25" rx="2.70" ry="1.20" fill="#1e1e8c"/>
<ellipse cx="371.95" cy="338.00" rx="2.30" ry="0.95" fill="#d42a2a"/>
<ellipse cx="375.95" cy="280.25" rx="2.30" ry="0.80" fill="#5ab4e8"/>
<ellipse cx="380.15" cy="329.92" rx="2.70" ry="1.20" fill="#1e1e8c"/>
<ellipse cx="384.52" cy="338.00" rx="2.30" ry="0.95" fill="#d42a2a"/>
<ellipse cx="388.52" cy="285.33" rx="2.30" ry="0.80" fill="#5ab4e8"/>
<ellipse cx="392.72" cy="281.17" rx="2.70" ry="1.20" fill="#1e1e8c"/>
<ellipse cx="397.09" cy="303.35" rx="2.30" ry="0.95" fill="#d42a2a"/>
<ellipse cx="401.09" cy="302.19" rx="2.30" ry="0.80" fill="#5ab4e8"/>
<ellipse cx="405.29" cy="288.33" rx="2.70" ry="1.20" fill="#1e1e8c"/>
<line x1="325.60" y1="292.50" x2="325.60" y2="300.00" stroke="#68aade" stroke-width="0.9" />
<line x1="322.80" y1="296.30" x2="328.40" y2="296.30" stroke="#68aade" stroke-width="0.9" />
<line x1="395.80" y1="299.40" x2="395.80" y2="305.80" stroke="#d42a2a" stroke-width="1.1" />
<line x1="392.80" y1="302.60" x2="398.80" y2="302.60" stroke="#d42a2a" stroke-width="1.1" />
<ellipse cx="418.50" cy="282.56" rx="2.30" ry="0.90" fill="#5ab4e8"/>
<ellipse cx="423.50" cy="317.21" rx="2.70" ry="1.20" fill="#1e1e8c"/>
<ellipse cx="431.00" cy="292.95" rx="2.30" ry="0.90" fill="#5ab4e8"/>
<ellipse cx="436.00" cy="336.38" rx="2.70" ry="1.20" fill="#1e1e8c"/>
<ellipse cx="443.50" cy="333.38" rx="2.30" ry="0.90" fill="#5ab4e8"/>
<ellipse cx="448.50" cy="296.42" rx="2.70" ry="1.20" fill="#1e1e8c"/>
<ellipse cx="456.00" cy="329.68" rx="2.30" ry="0.90" fill="#5ab4e8"/>
<ellipse cx="461.00" cy="335.69" rx="2.70" ry="1.20" fill="#1e1e8c"/>
<ellipse cx="468.50" cy="283.71" rx="2.30" ry="0.90" fill="#5ab4e8"/>
<ellipse cx="473.50" cy="286.72" rx="2.70" ry="1.20" fill="#1e1e8c"/>
<ellipse cx="481.00" cy="273.78" rx="2.30" ry="0.90" fill="#5ab4e8"/>
<ellipse cx="486.00" cy="335.00" rx="2.70" ry="1.20" fill="#1e1e8c"/>
<ellipse cx="493.50" cy="296.42" rx="2.30" ry="0.90" fill="#5ab4e8"/>
<ellipse cx="498.50" cy="271.01" rx="2.70" ry="1.20" fill="#1e1e8c"/>
<ellipse cx="506.00" cy="307.28" rx="2.30" ry="0.90" fill="#5ab4e8"/>
<ellipse cx="511.00" cy="286.72" rx="2.70" ry="1.20" fill="#1e1e8c"/>
</svg>
</body></html>
